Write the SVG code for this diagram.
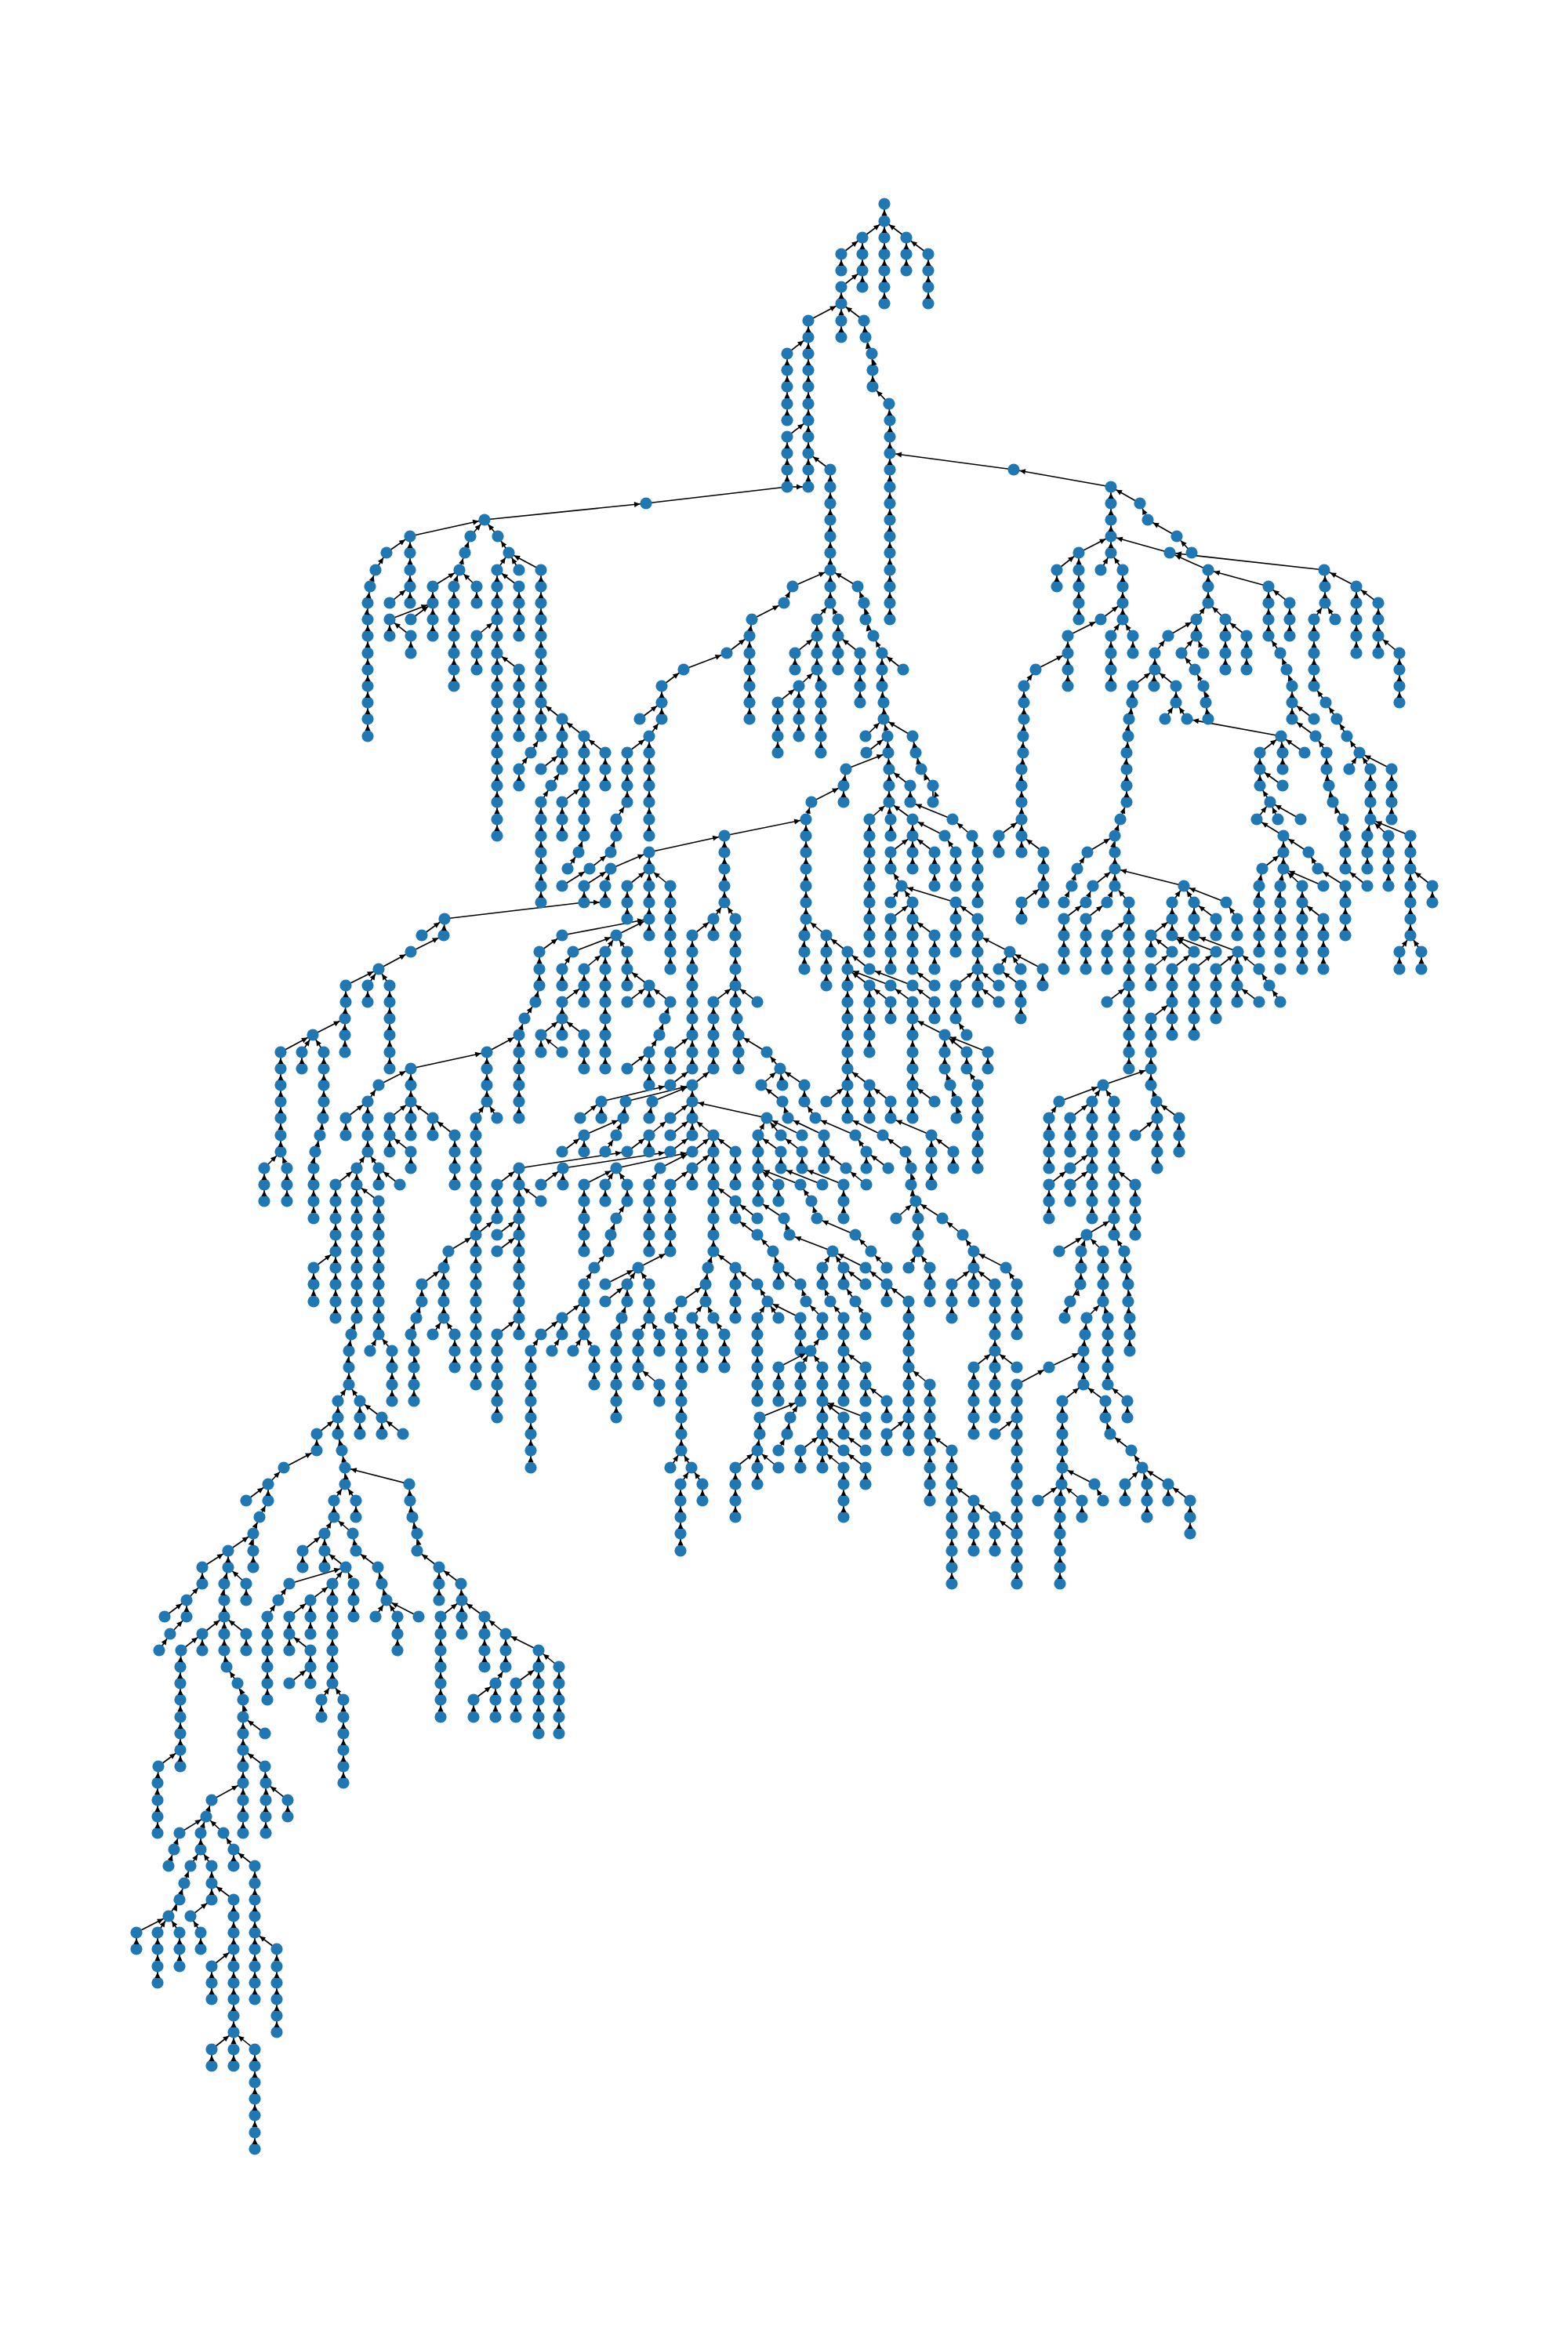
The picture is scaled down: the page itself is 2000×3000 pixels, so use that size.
<svg xmlns="http://www.w3.org/2000/svg" width="2000" height="3000" viewBox="0 0 2000 3000">
<style>
circle{r:7.6px;fill:#1f77b4}
.lines{stroke:#000;stroke-width:1.6;fill:none}
.heads{stroke:none;fill:none;marker-mid:url(#a);marker-end:url(#a)}
.x{marker:none!important}
</style>
<defs><marker id="a" markerUnits="userSpaceOnUse" markerWidth="20" markerHeight="10" refX="0" refY="0" orient="auto" overflow="visible"><path d="M-15 -3.5L-7.5 0L-15 3.5z" fill="#000"/></marker></defs>
<rect width="2000" height="3000" fill="#fff"/>
<g class="lines"><g id="connectors">
<path d="M1128 387V366 345 324 303 282 260"/><path d="M1100 303L1128 282"/><path d="M1100 366V345 324 303"/><path d="M1073 324L1100 303"/><path d="M1073 345V324"/><path d="M1073 366L1100 345"/><path d="M1073 430V409 387 366"/><path d="M1156 303L1128 282"/><path d="M1156 345V324 303"/><path d="M1184 324L1156 303"/><path d="M1184 387V366 345 324"/><path d="M1031 409L1073 387"/><path d="M1102 409L1073 387"/><path d="M1031 621V599 578 557 536 515 493 472 451 430 409"/><path d="M1004 451L1031 430"/><path d="M1004 536V515 493 472 451"/><path d="M1004 557L1031 536"/><path d="M1004 621V599 578 557"/><path d="M1004 621H1031"/><path d="M1059 769V748 727 705 684 663 642 621 599"/><path d="M1059 599L1031 578"/><path d="M1135 790V769 748 727 705 684 663 642 621 599 578 557 536L1134 515"/><path d="M1134 515L1113 493"/><path d="M1113 493V472L1112 451 1104 430 1102 409"/><path d="M1293 599L1135 578"/><path d="M1417 621L1293 599"/><path class="x" d="M1004 621L824 642"/><path d="M618 663L824 642"/>
<path d="M1011 748L1059 727"/><path d="M1094 748L1059 727"/><path d="M1000 769L1011 748"/><path d="M959 790L1000 769"/><path d="M956 811L959 790"/><path d="M956 917V896 875 854 833 811"/><path d="M927 833L956 811"/><path d="M872 854L927 833"/><path d="M844 875L872 854"/><path d="M844 896V875"/><path d="M816 917L844 896"/><path d="M844 917V896"/><path d="M828 939L844 917"/><path d="M828 1066V1045 1023 1002 981 960 939"/><path d="M800 960L828 939"/><path d="M800 1023V1002 981 960"/><path d="M786 1045L800 1023"/><path d="M786 1066V1045"/><path d="M779 1087L786 1066"/><path d="M752 1108L779 1087"/><path d="M717 1130L752 1108"/><path d="M779 1108L828 1087"/><path d="M745 1130L779 1108"/><path d="M772 1130L779 1108"/><path d="M772 1151V1130"/><path d="M745 1151V1130"/><path d="M745 1151H772"/><path class="x" d="M567 1172L745 1151"/><path d="M828 1087L924 1066"/><path d="M828 1193V1172 1151 1130 1108 1087"/><path d="M800 1130L828 1108"/><path d="M800 1172V1151 1130"/><path d="M855 1130L828 1108"/><path d="M855 1236V1214 1193 1172 1151 1130"/><path d="M717 1193L828 1172"/><path d="M786 1193L828 1172"/><path d="M688 1214L717 1193"/><path d="M688 1257V1236 1214"/><path d="M683 1278L688 1257"/><path d="M669 1299L683 1278"/><path d="M662 1320L669 1299"/><path d="M621 1342L662 1320"/><path d="M731 1214L786 1193"/><path d="M717 1236L731 1214"/><path d="M717 1257V1236"/><path d="M772 1214L786 1193"/><path d="M772 1363V1342 1320 1299 1278 1257 1236 1214"/><path d="M745 1236L772 1214"/><path d="M745 1278V1257 1236"/><path d="M717 1278L745 1257"/><path d="M717 1299V1278"/><path d="M690 1320L717 1299"/><path d="M717 1320V1299"/><path d="M745 1320L717 1299"/><path d="M690 1342V1320"/><path d="M717 1342L690 1320"/><path d="M745 1363V1342 1320"/><path d="M800 1214L786 1193"/><path d="M800 1257V1236 1214"/><path d="M828 1257L800 1236"/><path d="M800 1278L828 1257"/><path d="M828 1278V1257"/><path d="M855 1278L828 1257"/><path d="M848 1299L855 1278"/><path d="M841 1320L848 1299"/><path d="M828 1342L841 1320"/><path d="M800 1363L828 1342"/><path d="M828 1384V1363 1342"/><path d="M855 1363V1342"/><path d="M855 1342L883 1320"/><path d="M855 1384L883 1363"/><path d="M883 1363V1342 1320 1299 1278 1257 1236 1214 1193"/><path d="M883 1193L910 1172"/><path d="M910 1193V1172"/><path d="M924 1151V1130 1108 1087 1066"/><path d="M910 1172L924 1151"/><path d="M938 1172L924 1151"/><path d="M938 1257V1236 1214 1193 1172"/><path d="M910 1278L938 1257"/><path d="M938 1278V1257"/><path d="M966 1278L938 1257"/><path d="M910 1363V1342 1320 1299 1278"/><path d="M942 1363V1342 1320L940 1299 938 1278"/><path d="M978 1342L942 1320"/><path d="M995 1363L978 1342"/><path d="M971 1384L995 1363"/><path d="M998 1384L995 1363"/><path d="M1026 1384L995 1363"/><path d="M998 1405L971 1384"/><path d="M1005 1426L998 1405"/><path d="M1026 1405V1384"/><path d="M1040 1426L1026 1405"/><path d="M1091 1448L1040 1426"/><path d="M1126 1448L1081 1426"/><path d="M1188 1448L1136 1426"/><path d="M1023 1448L978 1426"/><path d="M978 1426L883 1405"/><path d="M1051 1448L1005 1426"/><path d="M967 1448L978 1426"/><path d="M996 1448L978 1426"/><path d="M967 1532V1511 1490 1469 1448"/><path d="M996 1469L967 1448"/><path d="M1023 1469L996 1448"/><path d="M996 1490V1469"/><path d="M1023 1490V1469"/><path d="M1051 1490V1469 1448"/><path d="M1079 1490L1051 1469"/><path d="M1105 1469L1091 1448"/><path d="M1105 1490V1469"/><path d="M1133 1490L1105 1469"/><path d="M1105 1511L1079 1490"/><path d="M1155 1469L1126 1448"/><path d="M1168 1532L1162 1511 1162 1490 1155 1469"/><path d="M1188 1511V1490 1469 1448"/><path d="M1216 1469L1188 1448"/><path d="M1216 1490V1469"/>
<path d="M1143 1554L1168 1532"/><path d="M1171 1554L1168 1532"/><path d="M1202 1554L1168 1532"/><path d="M1171 1596V1575 1554"/><path d="M1228 1575L1202 1554"/><path d="M1242 1596L1228 1575"/><path d="M1242 1617V1596"/><path d="M1283 1617L1242 1596"/><path d="M1297 1638L1283 1617"/><path d="M1297 1702V1681 1660 1638"/><path d="M1159 1617L1171 1596"/><path d="M1186 1617L1171 1596"/><path d="M1186 1660V1638 1617"/><path d="M1214 1638L1242 1617"/><path d="M1214 1681V1660 1638"/><path d="M1242 1660V1638 1617"/><path d="M1269 1638L1242 1617"/><path d="M1269 1723V1702 1681 1660 1638"/><path d="M1242 1744L1269 1723"/><path d="M1242 1829V1808 1787 1766 1744"/><path d="M1269 1808V1787 1766 1744 1723"/><path d="M1297 1744L1269 1723"/>
<path d="M993 1511L967 1490"/><path d="M993 1532V1511"/><path d="M1021 1511L967 1490"/><path d="M1049 1511L996 1490"/><path d="M1076 1511L1023 1490"/><path d="M1035 1532L1021 1511"/><path d="M1042 1554L1035 1532"/><path d="M1076 1554V1532 1511"/><path d="M1091 1575L1042 1554"/><path d="M1111 1596L1091 1575"/><path d="M1131 1617L1111 1596"/><path d="M1000 1554L967 1532"/><path d="M1007 1575L1000 1554"/><path d="M1062 1596L1007 1575"/><path d="M1049 1617L1062 1596"/><path d="M1076 1617L1062 1596"/><path d="M1104 1617L1062 1596"/><path d="M1049 1638V1617"/><path d="M1059 1660L1049 1638"/><path d="M1076 1638V1617"/><path d="M1104 1638L1076 1617"/><path d="M1091 1660L1076 1638"/><path d="M1104 1681L1091 1660"/><path d="M1104 1702V1681"/><path d="M1076 1787V1766 1744 1723 1702 1681"/><path d="M1076 1681L1059 1660"/><path d="M1131 1638L1104 1617"/><path d="M1131 1660V1638"/><path d="M1159 1660L1131 1638"/><path d="M1159 1850V1829 1808 1787 1766 1744 1723 1702 1681 1660"/><path d="M1104 1744L1076 1723"/><path d="M1104 1787V1766 1744"/><path d="M1131 1787L1104 1766"/><path d="M1131 1808V1787"/><path d="M1131 1829L1159 1808"/><path d="M1131 1850V1829"/><path d="M1186 1766L1159 1744"/><path d="M1186 1914V1893 1872 1850 1829 1808 1787 1766"/><path d="M1214 1850L1186 1829"/><path d="M1214 2020V1999 1978 1956 1935 1914 1893 1872 1850"/><path d="M1242 1914L1214 1893"/><path d="M1242 1978V1956 1935 1914"/><path d="M1269 1935L1242 1914"/><path d="M1269 1978V1956 1935"/><path d="M1297 1956L1269 1935"/><path d="M1297 2020V1999 1978 1956 1935 1914 1893 1872 1850 1829 1808 1787 1766"/><path d="M1297 1766L1338 1744"/><path d="M1338 1744L1382 1723"/><path d="M1269 1829L1297 1808"/>
<path d="M1382 1766V1744 1723L1384 1702 1386 1681"/><path d="M1386 1681L1407 1660"/><path d="M1407 1660V1638 1617 1596"/><path d="M1413 1681L1407 1660"/><path d="M1413 1766V1744 1723 1702 1681"/><path d="M1438 1787L1413 1766"/><path d="M1438 1808V1787"/><path d="M1355 1787L1382 1766"/><path d="M1410 1787L1382 1766"/><path d="M1355 1872V1850 1829 1808 1787"/><path d="M1410 1808V1787"/><path d="M1416 1829L1410 1808"/><path d="M1443 1850L1416 1829"/><path d="M1457 1872L1443 1850"/><path d="M1435 1893L1457 1872"/><path d="M1463 1893L1457 1872"/><path d="M1490 1893L1457 1872"/><path d="M1435 1914V1893"/><path d="M1463 1935V1914 1893"/><path d="M1490 1914V1893"/><path d="M1518 1914L1490 1893"/><path d="M1518 1956V1935 1914"/><path d="M1354 1893L1355 1872"/><path d="M1396 1893L1355 1872"/><path d="M1407 1914L1396 1893"/><path d="M1324 1914L1354 1893"/><path d="M1352 2020V1999 1978 1956 1935 1914L1354 1893"/><path d="M1380 1914L1354 1893"/><path d="M1380 1935V1914"/><path d="M1351 1596L1386 1575"/><path d="M1407 1596L1386 1575"/><path d="M1379 1596L1386 1575"/><path d="M1358 1681L1365 1660 1378 1638 1379 1617 1379 1596"/><path d="M1386 1575L1421 1554"/><path d="M1421 1575V1554 1532 1511 1490 1469 1448 1426 1405"/><path d="M1434 1596L1421 1575"/><path d="M1441 1723V1702 1681L1439 1660 1439 1638 1436 1617 1434 1596"/><path d="M1448 1511L1421 1490"/><path d="M1448 1575V1554 1532 1511"/><path d="M1393 1554V1532 1511 1490 1469 1448 1426 1405"/><path d="M1365 1426L1393 1405"/><path d="M1365 1469V1448 1426"/><path d="M1365 1490L1393 1469"/><path d="M1338 1511L1365 1490"/><path d="M1338 1554V1532 1511"/><path d="M1365 1511L1393 1490"/><path d="M1365 1532V1511"/><path d="M1338 1490V1469 1448 1426"/><path d="M1338 1426L1351 1405"/><path d="M1351 1405L1407 1384"/><path d="M1393 1405L1407 1384"/><path d="M1420 1405L1407 1384"/><path d="M1407 1384L1468 1363"/><path d="M1476 1490V1469 1448 1426L1475 1405"/><path d="M1475 1405L1468 1384"/><path d="M1448 1448L1476 1426"/><path d="M1504 1426L1475 1405"/><path d="M1504 1469V1448 1426"/>
<path d="M1468 1214V1193"/><path d="M1468 1193L1495 1172"/><path d="M1468 1257V1236"/><path d="M1468 1236L1495 1214"/><path d="M1468 1384V1363 1342 1320 1299"/><path d="M1468 1299L1495 1278"/><path d="M1495 1193V1172 1151"/><path d="M1495 1151L1510 1130"/><path d="M1523 1151L1510 1130"/><path d="M1564 1151L1510 1130"/><path d="M1510 1130L1422 1108"/><path d="M1495 1214L1468 1193"/><path d="M1495 1320V1299 1278 1257 1236"/><path d="M1495 1236L1523 1214"/><path d="M1523 1193V1172 1151"/><path d="M1523 1214L1495 1193"/><path d="M1551 1214L1495 1193"/><path d="M1579 1214L1523 1193"/><path d="M1551 1172L1523 1151"/><path d="M1551 1193V1172"/><path d="M1578 1172L1564 1151"/><path d="M1578 1193V1172"/><path d="M1523 1236L1551 1214"/><path d="M1523 1320V1299 1278 1257 1236"/><path d="M1551 1236L1579 1214"/><path d="M1551 1299V1278 1257 1236"/><path d="M1578 1278V1257 1236 1214"/><path d="M1606 1236L1579 1214"/><path d="M1606 1278L1578 1257"/><path d="M1619 1257L1606 1236"/><path d="M1633 1278L1619 1257"/>
<path d="M1440 1363V1342 1320 1299 1278 1257 1236 1214 1193 1172 1151"/><path d="M1440 1151L1422 1130"/><path d="M1412 1193L1440 1172"/><path d="M1412 1236V1214 1193"/><path d="M1412 1278L1440 1257"/><path d="M1357 1151L1367 1130"/><path d="M1367 1130L1374 1108"/><path d="M1374 1108L1387 1087"/><path d="M1387 1087L1422 1066"/><path d="M1394 1130L1422 1108"/><path d="M1385 1151L1394 1130"/><path d="M1412 1151L1422 1130"/><path d="M1357 1172L1385 1151"/><path d="M1357 1236V1214 1193 1172"/><path d="M1385 1172L1412 1151"/><path d="M1385 1236V1214 1193 1172"/><path d="M1422 1130V1108 1087 1066L1429 1045"/><path d="M1429 1045L1437 1023"/><path d="M1437 1023V1002 981 960L1439 939 1440 917 1444 896 1445 875"/><path d="M1445 875L1473 854"/><path d="M1473 854V833"/><path d="M1473 833L1490 811"/><path d="M1490 811L1526 790"/><path d="M1526 811V790"/><path d="M1526 790L1541 769"/><path d="M1563 790L1541 769"/><path d="M1541 769V748 727"/><path d="M1541 727L1492 705"/><path d="M1492 705L1417 684"/><path d="M1689 727L1492 705"/><path d="M1618 748L1541 727"/><path d="M1645 769L1618 748"/><path d="M1645 811V790 769"/><path d="M1472 875V854"/><path d="M1500 875L1473 854"/><path d="M1500 896V875"/><path d="M1486 917L1500 896"/><path d="M1514 917L1500 896"/><path d="M1634 939L1514 917"/><path d="M1507 833L1526 811"/><path d="M1535 833L1526 811"/><path d="M1524 854L1507 833"/><path d="M1541 917L1538 896 1535 875 1524 854"/><path d="M1563 854V833 811 790"/><path d="M1590 811L1563 790"/><path d="M1590 854V833 811"/><path d="M1618 811V790 769 748"/><path d="M1633 833L1618 811"/><path d="M1648 875L1641 854 1633 833"/><path d="M1648 917V896 875"/><path d="M1676 917L1648 896"/><path d="M1678 939L1648 917"/><path d="M1692 960L1678 939"/><path d="M1716 1108V1087 1066L1713 1045 1700 1023 1695 1002 1692 981 1692 960"/><path d="M1744 1130L1716 1108"/><path d="M1716 1193V1172 1151 1130"/><path d="M1716 1130L1681 1108"/><path d="M1681 1108L1669 1087"/><path d="M1669 1087L1637 1066"/><path d="M1637 1066L1603 1045"/><path d="M1637 1108V1087 1066"/><path d="M1610 1108L1637 1087"/><path d="M1606 1214V1193 1172 1151 1130L1610 1108"/><path d="M1633 1214V1193 1172 1151 1130L1637 1108"/><path d="M1661 1130L1637 1108"/><path d="M1661 1236V1214 1193 1172 1151 1130"/><path d="M1688 1130L1637 1108"/><path d="M1688 1172L1661 1151"/><path d="M1688 1236V1214 1193 1172"/><path d="M1607 960L1634 939"/><path d="M1636 960L1634 939"/><path d="M1664 960L1634 939"/><path d="M1636 981V960"/><path d="M1607 1002V981 960"/><path d="M1636 1002L1607 981"/><path d="M1620 1023L1607 1002"/><path d="M1603 1045L1620 1023"/><path d="M1630 1045L1620 1023"/><path d="M1659 1045L1620 1023"/>
<path d="M1690 769V748 727"/><path d="M1730 748L1690 727"/><path d="M1758 769L1730 748"/><path d="M1730 833V811 790 769 748"/><path d="M1758 833V811 790 769"/><path d="M1785 833L1758 811"/><path d="M1785 896V875 854 833"/><path d="M1676 790L1690 769"/><path d="M1703 790L1690 769"/><path d="M1676 875V854 833 811 790"/><path d="M1734 960L1718 939 1705 917 1691 896 1676 875"/><path d="M1721 981L1734 960"/><path d="M1748 981L1734 960"/><path d="M1775 981L1734 960"/><path d="M1748 1045V1023 1002 981"/><path d="M1775 1045V1023 1002 981"/><path d="M1744 1108V1087 1066L1748 1045"/><path d="M1771 1066L1748 1045"/><path d="M1771 1130V1108 1087 1066"/><path d="M1799 1066L1748 1045"/><path d="M1799 1193V1172 1151 1130 1108 1087 1066"/><path d="M1827 1130L1799 1108"/><path d="M1827 1151V1130"/><path d="M1785 1214L1799 1193"/><path d="M1813 1214L1799 1193"/><path d="M1785 1236V1214"/><path d="M1813 1236V1214"/>
<path d="M1417 705V684 663 642 621"/><path d="M1454 642L1417 621"/><path d="M1464 663L1454 642"/><path d="M1501 684L1464 663"/><path d="M1520 705L1501 684"/><path d="M1376 705L1417 684"/><path d="M1348 727L1376 705"/><path d="M1348 748V727"/><path d="M1376 790V769 748 727 705"/><path d="M1404 727L1417 705"/><path d="M1432 727L1417 705"/><path d="M1432 790V769 748 727"/><path d="M1404 790L1432 769"/><path d="M1362 811L1404 790"/><path d="M1362 875V854 833 811"/><path d="M1321 854L1362 833"/><path d="M1417 875V854 833 811"/><path d="M1417 811L1432 790"/><path d="M1445 811L1432 790"/><path d="M1445 833V811"/><path d="M1306 875L1321 854"/><path d="M1303 1087V1066 1045 1023 1002 981L1305 960 1305 939 1306 917 1306 896 1306 875"/><path d="M1331 1087L1303 1066"/><path d="M1331 1151V1130 1108 1087"/><path d="M1303 1151L1331 1130"/><path d="M1303 1172V1151"/><path d="M1274 1066L1303 1045"/><path d="M1274 1087V1066"/>
<path d="M924 1066L1028 1045"/><path d="M1028 1172V1151 1130 1108 1087 1066 1045"/><path d="M1026 1236V1214 1193L1028 1172"/><path d="M1028 1045L1035 1023"/><path d="M1035 1023L1076 1002"/><path d="M1076 1023V1002"/><path d="M1076 1002L1079 981"/><path d="M1079 981L1133 960"/><path d="M1133 960L1132 939"/><path d="M1132 939L1127 917"/><path d="M1127 917V896L1125 875 1125 854 1125 833"/><path d="M1125 833L1114 811 1104 790 1102 769 1094 748"/><path d="M1152 854L1125 833"/><path d="M1104 939L1127 917"/><path d="M1105 960L1132 939"/><path d="M1164 939L1127 917"/><path d="M1190 1023V1002L1175 981 1168 960 1164 939"/><path d="M1136 1066V1045L1134 1023 1134 1002 1134 981 1133 960"/><path d="M1161 1002L1134 981"/><path d="M1161 1023V1002"/><path d="M1215 1045L1161 1023"/><path d="M1240 1066L1215 1045"/><path d="M1247 1087L1240 1066"/><path d="M1247 1151V1130 1108 1087"/><path d="M1247 1172L1219 1151"/><path d="M1247 1278V1257 1236 1214 1193 1172"/><path d="M1109 1045L1134 1023"/><path d="M1109 1214V1193 1172 1151 1130 1108 1087 1066 1045"/><path d="M1164 1045L1134 1023"/><path d="M1164 1066V1045"/><path d="M1205 1066L1164 1045"/><path d="M1219 1087L1205 1066"/><path d="M1219 1130V1108 1087"/><path d="M1136 1087L1164 1066"/><path d="M1136 1108V1087"/><path d="M1164 1108V1087 1066"/><path d="M1192 1087L1164 1066"/><path d="M1192 1130V1108 1087"/><path d="M1150 1130L1136 1108"/><path d="M1136 1151L1150 1130"/><path d="M1164 1151L1150 1130"/><path d="M1219 1151L1150 1130"/><path d="M1219 1214V1193 1172 1151"/><path d="M1136 1172L1164 1151"/><path d="M1136 1236V1214 1193 1172"/><path d="M1164 1236V1214 1193 1172 1151"/><path d="M1192 1193L1164 1172"/><path d="M1192 1236V1214 1193"/><path d="M1219 1257L1247 1236"/><path d="M1219 1299V1278 1257"/><path d="M1233 1320L1219 1299"/><path d="M1288 1214L1247 1193"/><path d="M1274 1236L1288 1214"/><path d="M1302 1236L1288 1214"/><path d="M1330 1236L1288 1214"/><path d="M1330 1257V1236"/><path d="M1274 1257L1247 1236"/><path d="M1274 1278L1247 1257"/><path d="M1302 1257L1274 1236"/><path d="M1302 1299V1278 1257"/>
<path d="M1054 1193L1028 1172"/><path d="M1054 1257V1236 1214 1193"/><path d="M1081 1214L1054 1193"/><path d="M1081 1426V1405 1384 1363 1342 1320 1299 1278 1257 1236 1214"/><path d="M1109 1236L1081 1214"/><path d="M1109 1257L1081 1236"/><path d="M1136 1257L1081 1236"/><path d="M1164 1257L1109 1236"/><path d="M1192 1257L1164 1236"/><path d="M1192 1278L1164 1257"/><path d="M1109 1342V1320 1299 1278 1257"/><path d="M1136 1278L1109 1257"/><path d="M1136 1299V1278"/><path d="M1164 1278L1136 1257"/><path d="M1164 1426V1405 1384 1363 1342 1320 1299 1278"/><path d="M1192 1299V1278"/><path d="M1205 1320L1164 1299"/><path d="M1205 1363V1342 1320"/><path d="M1220 1426V1405L1212 1384 1205 1363"/><path d="M1233 1342L1205 1320"/><path d="M1233 1363V1342"/><path d="M1260 1342L1205 1320"/><path d="M1260 1363V1342"/><path d="M1247 1384L1233 1363"/><path d="M1247 1490V1469 1448 1426 1405 1384"/><path d="M1192 1405L1164 1384"/><path d="M1054 1405L1081 1384"/><path d="M1109 1384L1081 1363"/><path d="M1109 1426V1405 1384"/><path d="M1136 1405L1109 1384"/><path d="M1136 1426V1405"/>
<path d="M662 1702V1681 1660 1638 1617 1596 1575 1554 1532 1511 1490"/><path d="M662 1426V1405 1384 1363 1342 1320"/><path d="M621 1405V1384 1363 1342"/><path d="M607 1426L621 1405"/><path d="M634 1426L621 1405"/><path d="M607 1766V1744 1723 1702 1681 1660 1638 1617 1596 1575 1554 1532 1511 1490 1469 1448 1426"/><path d="M634 1511L662 1490"/><path d="M634 1554V1532 1511"/><path d="M607 1575L634 1554"/><path d="M572 1596L607 1575"/><path d="M566 1617L572 1596"/><path d="M566 1681V1660 1638 1617"/><path d="M538 1638L566 1617"/><path d="M538 1660V1638"/><path d="M524 1702L531 1681 538 1660"/><path d="M528 1787V1766 1744 1723L524 1702"/><path d="M552 1702L566 1681"/><path d="M580 1702L566 1681"/><path d="M580 1744V1723 1702"/><path d="M690 1532L662 1511"/><path d="M634 1575L662 1554"/><path d="M634 1596L662 1575"/><path d="M634 1702L662 1681"/><path d="M634 1808V1787 1766 1744 1723 1702"/><path d="M662 1490L800 1469"/><path d="M718 1490L855 1469"/><path d="M718 1511V1490"/><path d="M690 1511L718 1490"/>
<path d="M767 1405L855 1384"/><path d="M798 1405L883 1384"/><path d="M832 1405L883 1384"/><path d="M740 1426L767 1405"/><path d="M767 1426V1405"/><path d="M795 1426L798 1405"/><path d="M828 1426L832 1405"/><path d="M855 1426L883 1405"/><path d="M883 1448V1426 1405 1384"/><path d="M883 1384L910 1363"/><path d="M828 1448L855 1426"/><path d="M855 1448L883 1426"/><path d="M910 1448L883 1426"/><path d="M938 1469L910 1448"/><path d="M910 1469V1448"/><path d="M828 1469V1448"/><path d="M800 1469L828 1448"/><path d="M855 1469L883 1448"/><path d="M883 1469L910 1448"/><path d="M786 1448L795 1426"/><path d="M772 1469L786 1448"/><path d="M745 1448L795 1426"/><path d="M745 1469V1448"/><path d="M717 1469L745 1448"/><path d="M883 1490L910 1469"/><path d="M883 1511V1490"/><path d="M910 1490V1469"/><path d="M786 1490L883 1469"/><path d="M842 1490L883 1469"/><path d="M745 1511L786 1490"/><path d="M772 1511L786 1490"/><path d="M800 1511L786 1490"/><path d="M745 1596V1575 1554 1532 1511"/><path d="M772 1532V1511"/><path d="M800 1532V1511"/><path d="M786 1554L800 1532"/><path d="M779 1575L786 1554"/><path d="M776 1596L779 1575"/><path d="M758 1617L776 1596"/><path d="M745 1638L758 1617"/><path d="M828 1511L842 1490"/><path d="M855 1511L883 1490"/><path d="M938 1511V1490 1469"/><path d="M828 1596V1575 1554 1532 1511"/><path d="M855 1596V1575 1554 1532 1511"/><path d="M910 1596V1575 1554 1532 1511 1490"/><path d="M938 1532L910 1511"/><path d="M938 1554V1532"/><path d="M966 1554L938 1532"/><path d="M966 1575L938 1554"/><path d="M986 1596L966 1575"/><path d="M993 1617L986 1596"/><path d="M993 1638V1617"/><path d="M1021 1638L993 1617"/><path d="M1028 1660L1021 1638"/><path d="M1049 1681L1028 1660"/><path d="M1049 1702V1681"/><path d="M1034 1723L1049 1702"/><path d="M993 1744L1034 1723"/><path d="M1021 1744L1034 1723"/><path d="M1049 1744L1034 1723"/><path d="M1049 1872V1850 1829 1808 1787 1766 1744"/><path d="M1076 1808L1049 1787"/><path d="M1104 1808L1049 1787"/><path d="M1076 1829V1808"/><path d="M1104 1829V1808"/><path d="M1021 1850L1049 1829"/><path d="M1021 1872V1850"/><path d="M1076 1850L1049 1829"/><path d="M1076 1872L1049 1850"/><path d="M1076 1935V1914 1893 1872"/><path d="M1104 1850L1076 1829"/><path d="M1104 1872L1076 1850"/><path d="M1104 1893V1872"/><path d="M969 1808L1021 1787"/><path d="M1008 1808L1021 1787"/><path d="M969 1829V1808"/><path d="M966 1850L969 1829"/><path d="M966 1893V1872 1850"/><path d="M938 1872L966 1850"/><path d="M938 1935V1914 1893 1872"/><path d="M993 1872L966 1850"/><path d="M1004 1829L1008 1808"/><path d="M993 1850L1004 1829"/><path d="M1021 1787V1766 1744"/><path d="M993 1787V1766 1744"/><path d="M966 1787V1766 1744 1723 1702 1681"/><path d="M966 1681L979 1660"/><path d="M979 1660L966 1638"/><path d="M993 1681L979 1660"/><path d="M1021 1681L979 1660"/><path d="M1021 1723V1702 1681"/><path d="M966 1638L938 1617"/><path d="M938 1681V1660 1638 1617"/><path d="M938 1617L910 1596"/><path d="M903 1617L910 1596"/><path d="M900 1638L903 1617"/><path d="M900 1660V1638"/><path d="M869 1660L900 1638"/><path d="M855 1681L869 1660"/><path d="M869 1850V1829 1808 1787 1766 1744 1723 1702"/><path d="M869 1702L855 1681"/><path d="M883 1681L900 1660"/><path d="M910 1681L900 1660"/><path d="M896 1702L883 1681"/><path d="M896 1744V1723 1702"/><path d="M924 1702L910 1681"/><path d="M924 1744V1723 1702"/><path d="M855 1872L869 1850"/><path d="M882 1872L869 1850"/><path d="M868 1893L882 1872"/><path d="M896 1893L882 1872"/><path d="M896 1914V1893"/><path d="M868 1978V1956 1935 1914 1893"/><path d="M814 1617L855 1596"/><path d="M772 1638L814 1617"/><path d="M800 1638L814 1617"/><path d="M828 1638L814 1617"/><path d="M772 1660L800 1638"/><path d="M800 1660V1638"/><path d="M793 1681L800 1660"/><path d="M786 1702L793 1681"/><path d="M786 1808V1787 1766 1744 1723 1702"/><path d="M828 1681V1660 1638"/><path d="M814 1702L828 1681"/><path d="M841 1702L828 1681"/><path d="M814 1766V1744 1723 1702"/><path d="M841 1723V1702"/><path d="M841 1766L814 1744"/><path d="M841 1787V1766"/><path d="M745 1702V1681 1660 1638"/><path d="M717 1681L745 1660"/><path d="M717 1702V1681"/><path d="M704 1723L717 1702"/><path d="M731 1723L745 1702"/><path d="M758 1723L745 1702"/><path d="M758 1766V1744 1723"/><path d="M690 1702L717 1681"/><path d="M677 1723L690 1702"/><path d="M677 1872V1850 1829 1808 1787 1766 1744 1723"/>
<path d="M524 1214L566 1193"/><path d="M483 1236L524 1214"/><path d="M538 1193L567 1172"/><path d="M566 1193L567 1172"/><path d="M441 1257L483 1236"/><path d="M469 1257L483 1236"/><path d="M497 1257L483 1236"/><path d="M441 1278V1257"/><path d="M440 1342V1320 1299L441 1278"/><path d="M399 1320L440 1299"/><path d="M358 1342L399 1320"/><path d="M385 1342L399 1320"/><path d="M385 1363V1342"/><path d="M413 1342L399 1320"/><path d="M469 1278V1257"/><path d="M497 1363V1342 1320 1299 1278 1257"/><path d="M358 1469V1448 1426 1405 1384 1363 1342"/><path d="M337 1490L358 1469"/><path d="M337 1532V1511 1490"/><path d="M366 1490L358 1469"/><path d="M366 1532V1511 1490"/><path d="M400 1554V1532 1511 1490L402 1469 408 1448 412 1426 413 1405 413 1384 413 1363 413 1342"/><path d="M524 1363L621 1342"/><path d="M483 1384L524 1363"/><path d="M469 1405L483 1384"/><path d="M441 1426L469 1405"/><path d="M441 1448V1426"/><path d="M469 1469V1448 1426 1405"/><path d="M455 1490L469 1469"/><path d="M483 1490L469 1469"/><path d="M483 1511V1490"/><path d="M510 1511L483 1490"/><path d="M428 1511L455 1490"/><path d="M428 1681V1660 1638 1617 1596 1575 1554 1532 1511"/><path d="M400 1617L428 1596"/><path d="M400 1660V1638 1617"/><path d="M455 1681V1660 1638 1617 1596 1575 1554 1532 1511 1490"/><path d="M483 1532L455 1511"/><path d="M483 1702V1681 1660 1638 1617 1596 1575 1554 1532"/><path d="M448 1702L455 1681"/><path d="M445 1766V1744 1723L448 1702"/><path d="M472 1723L483 1702"/><path d="M500 1723L483 1702"/><path d="M500 1787V1766 1744 1723"/><path d="M524 1405V1384 1363"/><path d="M497 1426L524 1405"/><path d="M524 1426V1405"/><path d="M552 1426L524 1405"/><path d="M497 1469V1448 1426"/><path d="M524 1448V1426"/><path d="M524 1469L497 1448"/><path d="M524 1490V1469"/><path d="M552 1448V1426"/><path d="M580 1448L552 1426"/><path d="M580 1511V1490 1469 1448"/>
<path d="M431 1787L445 1766"/><path d="M459 1787L445 1766"/><path d="M431 1829V1808 1787"/><path d="M404 1829L431 1808"/><path d="M404 1850V1829"/><path d="M436 1850L431 1829"/><path d="M440 1893V1872L436 1850"/><path d="M459 1829V1808 1787"/><path d="M487 1808L459 1787"/><path d="M487 1829V1808"/><path d="M514 1829L487 1808"/><path d="M362 1872L404 1850"/><path d="M342 1893L362 1872"/><path d="M342 1914V1893"/><path d="M323 1999V1978 1956L331 1935 342 1914"/><path d="M291 1978L323 1956"/><path d="M258 1999L291 1978"/><path d="M258 2020V1999"/><path d="M238 2041L258 2020"/><path d="M210 2062L238 2041"/><path d="M238 2062V2041"/><path d="M217 2084L238 2062"/><path d="M203 2105L217 2084"/><path d="M314 1914L342 1893"/><path d="M291 1999V1978"/><path d="M314 2020L291 1999"/><path d="M314 2041V2020"/><path d="M286 2062V2041 2020L291 1999"/><path d="M258 2084L286 2062"/><path d="M258 2105V2084"/><path d="M286 2105V2084 2062"/><path d="M314 2084L286 2062"/><path d="M314 2105V2084"/><path d="M231 2105L258 2084"/><path d="M230 2232V2211 2190 2168 2147 2126L231 2105"/><path d="M230 2253V2232"/><path d="M202 2253L230 2232"/><path d="M201 2338V2317 2296 2274L202 2253"/><path d="M289 2126L286 2105"/><path d="M310 2338V2317 2296 2274 2253 2232 2211 2190 2168L303 2147 289 2126"/><path d="M338 2211L310 2190"/><path d="M338 2253L310 2232"/><path d="M339 2338V2317 2296 2274L338 2253"/><path d="M367 2296L339 2274"/><path d="M367 2317V2296"/><path d="M270 2296L310 2274"/><path d="M263 2317L270 2296"/><path d="M229 2338L263 2317"/><path d="M256 2338L263 2317"/><path d="M285 2338L263 2317"/><path d="M256 2359V2338"/><path d="M298 2359L285 2338"/><path d="M298 2380V2359"/><path d="M325 2380L298 2359"/><path d="M222 2359L229 2338"/><path d="M215 2380L222 2359"/><path d="M243 2380L256 2359"/><path d="M270 2380L256 2359"/><path d="M215 2444L229 2423 235 2402 243 2380"/><path d="M174 2465L215 2444"/><path d="M174 2486V2465"/><path d="M201 2465L215 2444"/><path d="M201 2529V2508 2486 2465"/><path d="M229 2465L215 2444"/><path d="M229 2508V2486 2465"/><path d="M270 2423V2402 2380"/><path d="M243 2444L270 2423"/><path d="M256 2465L243 2444"/><path d="M256 2486V2465"/><path d="M298 2423L270 2402"/><path d="M298 2592V2571 2550 2529 2508 2486 2465 2444 2423"/><path d="M270 2508L298 2486"/><path d="M270 2550V2529 2508"/><path d="M325 2550V2529 2508 2486 2465 2444 2423 2402 2380"/><path d="M353 2486L325 2465"/><path d="M353 2592V2571 2550 2529 2508 2486"/><path d="M270 2614L298 2592"/><path d="M298 2614V2592"/><path d="M325 2614L298 2592"/><path d="M270 2635V2614"/><path d="M298 2635V2614"/><path d="M325 2741V2720 2698 2677 2656 2635 2614"/>
<path d="M426 1914L440 1893"/><path d="M454 1914L440 1893"/><path d="M454 1935V1914"/><path d="M426 1935V1914"/><path d="M414 1956L426 1935"/><path d="M450 1956L426 1935"/><path d="M454 1978L450 1956"/><path d="M482 1999L454 1978"/><path d="M493 2041L487 2020 482 1999"/><path d="M479 2062L493 2041"/><path d="M507 2062L493 2041"/><path d="M534 2062L493 2041"/><path d="M507 2105V2084 2062"/><path d="M414 1999V1978 1956"/><path d="M386 1978L414 1956"/><path d="M386 1999V1978"/><path d="M441 1999L414 1978"/><path d="M369 2020L441 1999"/><path d="M424 2020L441 1999"/><path d="M451 2020L441 1999"/><path d="M451 2062V2041 2020"/><path d="M355 2041L369 2020"/><path d="M341 2062L355 2041"/><path d="M341 2168V2147 2126 2105 2084 2062"/><path d="M396 2041L424 2020"/><path d="M424 2147V2126 2105 2084 2062 2041 2020"/><path d="M369 2062L396 2041"/><path d="M396 2084V2062 2041"/><path d="M369 2084V2062"/><path d="M369 2105V2084"/><path d="M396 2105L369 2084"/><path d="M396 2147V2126 2105"/><path d="M369 2147L396 2126"/><path d="M410 2168L424 2147"/><path d="M410 2190V2168"/><path d="M438 2168L424 2147"/><path d="M438 2274V2253 2232 2211 2190 2168"/><path d="M522 1893L440 1872"/><path d="M532 1978V1956L526 1935 523 1914 522 1893"/><path d="M560 1999L532 1978"/><path d="M560 2041V2020 1999"/><path d="M588 2020L560 1999"/><path d="M589 2041L588 2020"/><path d="M562 2062L589 2041"/><path d="M589 2084V2062 2041"/><path d="M618 2062L589 2041"/><path d="M562 2190V2168 2147 2126 2105 2084 2062"/><path d="M618 2126V2105 2084 2062"/><path d="M645 2084L618 2062"/><path d="M645 2126V2105 2084"/><path d="M632 2147L645 2126"/><path d="M632 2190V2168 2147"/><path d="M604 2168L632 2147"/><path d="M604 2190V2168"/><path d="M687 2105L645 2084"/><path d="M687 2211V2190 2168 2147 2126 2105"/><path d="M658 2147L687 2126"/><path d="M658 2190V2168 2147"/><path d="M713 2126L687 2105"/><path d="M713 2211V2190 2168 2147 2126"/>
<path d="M523 684L618 663"/><path d="M600 684L618 663"/><path d="M635 684L618 663"/><path d="M493 705L523 684"/><path d="M479 727L493 705"/><path d="M472 748L479 727"/><path d="M469 939V917 896 875 854 833 811 790 769L472 748"/><path d="M523 769V748 727 705 684"/><path d="M497 769L523 748"/><path d="M497 811V790"/><path d="M497 790L552 769"/><path d="M524 790L552 769"/><path d="M524 811L497 790"/><path d="M524 833V811"/><path d="M593 705L600 684"/><path d="M586 727L593 705"/><path d="M552 748L586 727"/><path d="M552 811V790 769 748"/><path d="M579 748L586 727"/><path d="M579 875V854 833 811 790 769 748"/><path d="M608 748L586 727"/><path d="M608 769V748"/><path d="M649 705L635 684"/><path d="M634 727L649 705"/><path d="M662 727L649 705"/><path d="M690 727L649 705"/><path d="M634 1066V1045 1023 1002 981 960 939 917 896 875 854 833 811 790 769 748 727"/><path d="M662 748L634 727"/><path d="M662 811V790 769 748"/><path d="M608 811L634 790"/><path d="M608 854V833 811"/><path d="M662 854L634 833"/><path d="M662 939V917 896 875 854"/><path d="M690 939V917 896 875 854 833 811 790 769 748 727"/><path d="M717 917L690 896"/><path d="M717 981V960 939 917"/><path d="M745 939L717 917"/><path d="M745 1066V1045 1023 1002 981 960 939"/><path d="M772 960L745 939"/><path d="M772 1002V981 960"/><path d="M677 960L690 939"/><path d="M662 981L677 960"/><path d="M662 1002V981"/><path d="M690 981L717 960"/><path d="M703 1002L717 981"/><path d="M690 1023L703 1002"/><path d="M690 1151V1130 1108 1087 1066 1045 1023"/><path d="M717 1023L745 1002"/><path d="M717 1066V1045 1023"/><path d="M738 1087L745 1066"/><path d="M724 1108L738 1087"/>
<path d="M1042 790L1059 769"/><path d="M1069 790L1059 769"/><path d="M1042 811V790"/><path d="M1069 811V790"/><path d="M1014 833L1042 811"/><path d="M1014 854V833"/><path d="M1042 854V833 811"/><path d="M1069 854V833 811"/><path d="M1097 833L1069 811"/><path d="M1097 896V875 854 833"/><path d="M1019 875L1042 854"/><path d="M1047 875L1042 854"/><path d="M1047 960V939 917 896 875"/><path d="M992 896L1019 875"/><path d="M992 960V939 917 896"/><path d="M1019 939V917 896 875"/>
</g></g>
<g id="nodes">
<g id="n1"><circle cx="1128" cy="260"/></g><g id="n2"><circle cx="1128" cy="282"/></g><g id="n3"><circle cx="1128" cy="303"/></g><g id="n4"><circle cx="1128" cy="324"/></g><g id="n5"><circle cx="1128" cy="345"/></g><g id="n6"><circle cx="1128" cy="366"/></g><g id="n7"><circle cx="1128" cy="387"/></g><g id="n8"><circle cx="1100" cy="303"/></g><g id="n9"><circle cx="1100" cy="324"/></g><g id="n10"><circle cx="1100" cy="345"/></g><g id="n11"><circle cx="1100" cy="366"/></g><g id="n12"><circle cx="1073" cy="324"/></g><g id="n13"><circle cx="1073" cy="345"/></g><g id="n14"><circle cx="1073" cy="366"/></g><g id="n15"><circle cx="1073" cy="387"/></g><g id="n16"><circle cx="1073" cy="409"/></g><g id="n17"><circle cx="1073" cy="430"/></g><g id="n18"><circle cx="1156" cy="303"/></g><g id="n19"><circle cx="1156" cy="324"/></g><g id="n20"><circle cx="1156" cy="345"/></g><g id="n21"><circle cx="1184" cy="324"/></g><g id="n22"><circle cx="1184" cy="345"/></g><g id="n23"><circle cx="1184" cy="366"/></g><g id="n24"><circle cx="1184" cy="387"/></g><g id="n25"><circle cx="1031" cy="409"/></g><g id="n26"><circle cx="1031" cy="430"/></g><g id="n27"><circle cx="1031" cy="451"/></g><g id="n28"><circle cx="1031" cy="472"/></g><g id="n29"><circle cx="1031" cy="493"/></g><g id="n30"><circle cx="1031" cy="515"/></g><g id="n31"><circle cx="1031" cy="536"/></g><g id="n32"><circle cx="1031" cy="557"/></g><g id="n33"><circle cx="1031" cy="578"/></g><g id="n34"><circle cx="1031" cy="599"/></g><g id="n35"><circle cx="1031" cy="621"/></g><g id="n36"><circle cx="1102" cy="409"/></g><g id="n37"><circle cx="1104" cy="430"/></g><g id="n38"><circle cx="1112" cy="451"/></g><g id="n39"><circle cx="1113" cy="472"/></g><g id="n40"><circle cx="1113" cy="493"/></g><g id="n41"><circle cx="1134" cy="515"/></g>
<g id="n42"><circle cx="1004" cy="451"/></g><g id="n43"><circle cx="1004" cy="472"/></g><g id="n44"><circle cx="1004" cy="493"/></g><g id="n45"><circle cx="1004" cy="515"/></g><g id="n46"><circle cx="1004" cy="536"/></g><g id="n47"><circle cx="1004" cy="557"/></g><g id="n48"><circle cx="1004" cy="578"/></g><g id="n49"><circle cx="1004" cy="599"/></g><g id="n50"><circle cx="1004" cy="621"/></g><g id="n51"><circle cx="824" cy="642"/></g><g id="n52"><circle cx="618" cy="663"/></g><g id="n53"><circle cx="1059" cy="599"/></g><g id="n54"><circle cx="1059" cy="621"/></g><g id="n55"><circle cx="1059" cy="642"/></g><g id="n56"><circle cx="1059" cy="663"/></g><g id="n57"><circle cx="1059" cy="684"/></g><g id="n58"><circle cx="1059" cy="705"/></g><g id="n59"><circle cx="1059" cy="727"/></g><g id="n60"><circle cx="1059" cy="748"/></g><g id="n61"><circle cx="1059" cy="769"/></g>
<g id="n62"><circle cx="1135" cy="536"/></g><g id="n63"><circle cx="1135" cy="557"/></g><g id="n64"><circle cx="1135" cy="578"/></g><g id="n65"><circle cx="1135" cy="599"/></g><g id="n66"><circle cx="1135" cy="621"/></g><g id="n67"><circle cx="1135" cy="642"/></g><g id="n68"><circle cx="1135" cy="663"/></g><g id="n69"><circle cx="1135" cy="684"/></g><g id="n70"><circle cx="1135" cy="705"/></g><g id="n71"><circle cx="1135" cy="727"/></g><g id="n72"><circle cx="1135" cy="748"/></g><g id="n73"><circle cx="1135" cy="769"/></g><g id="n74"><circle cx="1135" cy="790"/></g><g id="n75"><circle cx="1293" cy="599"/></g>
<g id="n76"><circle cx="1011" cy="748"/></g><g id="n77"><circle cx="1094" cy="748"/></g><g id="n78"><circle cx="1000" cy="769"/></g><g id="n79"><circle cx="959" cy="790"/></g><g id="n80"><circle cx="956" cy="811"/></g><g id="n81"><circle cx="956" cy="833"/></g><g id="n82"><circle cx="956" cy="854"/></g><g id="n83"><circle cx="956" cy="875"/></g><g id="n84"><circle cx="956" cy="896"/></g><g id="n85"><circle cx="956" cy="917"/></g><g id="n86"><circle cx="927" cy="833"/></g><g id="n87"><circle cx="872" cy="854"/></g><g id="n88"><circle cx="844" cy="875"/></g><g id="n89"><circle cx="844" cy="896"/></g><g id="n90"><circle cx="816" cy="917"/></g><g id="n91"><circle cx="844" cy="917"/></g><g id="n92"><circle cx="828" cy="939"/></g><g id="n93"><circle cx="828" cy="960"/></g><g id="n94"><circle cx="828" cy="981"/></g><g id="n95"><circle cx="828" cy="1002"/></g><g id="n96"><circle cx="828" cy="1023"/></g><g id="n97"><circle cx="828" cy="1045"/></g><g id="n98"><circle cx="828" cy="1066"/></g><g id="n99"><circle cx="800" cy="960"/></g><g id="n100"><circle cx="800" cy="981"/></g><g id="n101"><circle cx="800" cy="1002"/></g><g id="n102"><circle cx="800" cy="1023"/></g><g id="n103"><circle cx="786" cy="1045"/></g><g id="n104"><circle cx="786" cy="1066"/></g><g id="n105"><circle cx="779" cy="1087"/></g><g id="n106"><circle cx="752" cy="1108"/></g><g id="n107"><circle cx="717" cy="1130"/></g><g id="n108"><circle cx="779" cy="1108"/></g><g id="n109"><circle cx="745" cy="1130"/></g><g id="n110"><circle cx="772" cy="1130"/></g><g id="n111"><circle cx="772" cy="1151"/></g><g id="n112"><circle cx="745" cy="1151"/></g><g id="n113"><circle cx="567" cy="1172"/></g><g id="n114"><circle cx="828" cy="1087"/></g><g id="n115"><circle cx="828" cy="1108"/></g><g id="n116"><circle cx="828" cy="1130"/></g><g id="n117"><circle cx="828" cy="1151"/></g><g id="n118"><circle cx="828" cy="1172"/></g><g id="n119"><circle cx="828" cy="1193"/></g><g id="n120"><circle cx="924" cy="1066"/></g><g id="n121"><circle cx="800" cy="1130"/></g><g id="n122"><circle cx="800" cy="1151"/></g><g id="n123"><circle cx="800" cy="1172"/></g><g id="n124"><circle cx="855" cy="1130"/></g><g id="n125"><circle cx="855" cy="1151"/></g><g id="n126"><circle cx="855" cy="1172"/></g><g id="n127"><circle cx="855" cy="1193"/></g><g id="n128"><circle cx="855" cy="1214"/></g><g id="n129"><circle cx="855" cy="1236"/></g>
<g id="n130"><circle cx="717" cy="1193"/></g><g id="n131"><circle cx="786" cy="1193"/></g><g id="n132"><circle cx="688" cy="1214"/></g><g id="n133"><circle cx="688" cy="1236"/></g><g id="n134"><circle cx="688" cy="1257"/></g><g id="n135"><circle cx="683" cy="1278"/></g><g id="n136"><circle cx="669" cy="1299"/></g><g id="n137"><circle cx="662" cy="1320"/></g><g id="n138"><circle cx="621" cy="1342"/></g><g id="n139"><circle cx="731" cy="1214"/></g><g id="n140"><circle cx="717" cy="1236"/></g><g id="n141"><circle cx="717" cy="1257"/></g><g id="n142"><circle cx="772" cy="1214"/></g><g id="n143"><circle cx="772" cy="1236"/></g><g id="n144"><circle cx="772" cy="1257"/></g><g id="n145"><circle cx="772" cy="1278"/></g><g id="n146"><circle cx="772" cy="1299"/></g><g id="n147"><circle cx="772" cy="1320"/></g><g id="n148"><circle cx="772" cy="1342"/></g><g id="n149"><circle cx="772" cy="1363"/></g><g id="n150"><circle cx="745" cy="1236"/></g><g id="n151"><circle cx="745" cy="1257"/></g><g id="n152"><circle cx="745" cy="1278"/></g><g id="n153"><circle cx="717" cy="1278"/></g><g id="n154"><circle cx="717" cy="1299"/></g><g id="n155"><circle cx="690" cy="1320"/></g><g id="n156"><circle cx="717" cy="1320"/></g><g id="n157"><circle cx="745" cy="1320"/></g><g id="n158"><circle cx="690" cy="1342"/></g><g id="n159"><circle cx="717" cy="1342"/></g><g id="n160"><circle cx="745" cy="1342"/></g><g id="n161"><circle cx="745" cy="1363"/></g><g id="n162"><circle cx="800" cy="1214"/></g><g id="n163"><circle cx="800" cy="1236"/></g><g id="n164"><circle cx="800" cy="1257"/></g><g id="n165"><circle cx="828" cy="1257"/></g><g id="n166"><circle cx="800" cy="1278"/></g><g id="n167"><circle cx="828" cy="1278"/></g><g id="n168"><circle cx="855" cy="1278"/></g><g id="n169"><circle cx="848" cy="1299"/></g><g id="n170"><circle cx="841" cy="1320"/></g><g id="n171"><circle cx="828" cy="1342"/></g><g id="n172"><circle cx="800" cy="1363"/></g><g id="n173"><circle cx="828" cy="1363"/></g><g id="n174"><circle cx="828" cy="1384"/></g><g id="n175"><circle cx="855" cy="1342"/></g><g id="n176"><circle cx="855" cy="1363"/></g><g id="n177"><circle cx="855" cy="1384"/></g><g id="n178"><circle cx="883" cy="1193"/></g><g id="n179"><circle cx="883" cy="1214"/></g><g id="n180"><circle cx="883" cy="1236"/></g><g id="n181"><circle cx="883" cy="1257"/></g><g id="n182"><circle cx="883" cy="1278"/></g><g id="n183"><circle cx="883" cy="1299"/></g><g id="n184"><circle cx="883" cy="1320"/></g><g id="n185"><circle cx="883" cy="1342"/></g><g id="n186"><circle cx="883" cy="1363"/></g><g id="n187"><circle cx="910" cy="1172"/></g><g id="n188"><circle cx="910" cy="1193"/></g><g id="n189"><circle cx="924" cy="1087"/></g><g id="n190"><circle cx="924" cy="1108"/></g><g id="n191"><circle cx="924" cy="1130"/></g><g id="n192"><circle cx="924" cy="1151"/></g><g id="n193"><circle cx="938" cy="1172"/></g><g id="n194"><circle cx="938" cy="1193"/></g><g id="n195"><circle cx="938" cy="1214"/></g><g id="n196"><circle cx="938" cy="1236"/></g><g id="n197"><circle cx="938" cy="1257"/></g><g id="n198"><circle cx="910" cy="1278"/></g><g id="n199"><circle cx="938" cy="1278"/></g><g id="n200"><circle cx="966" cy="1278"/></g><g id="n201"><circle cx="910" cy="1299"/></g><g id="n202"><circle cx="910" cy="1320"/></g><g id="n203"><circle cx="910" cy="1342"/></g><g id="n204"><circle cx="910" cy="1363"/></g><g id="n205"><circle cx="940" cy="1299"/></g><g id="n206"><circle cx="942" cy="1320"/></g><g id="n207"><circle cx="942" cy="1342"/></g><g id="n208"><circle cx="942" cy="1363"/></g><g id="n209"><circle cx="978" cy="1342"/></g><g id="n210"><circle cx="995" cy="1363"/></g><g id="n211"><circle cx="971" cy="1384"/></g><g id="n212"><circle cx="998" cy="1384"/></g><g id="n213"><circle cx="1026" cy="1384"/></g><g id="n214"><circle cx="998" cy="1405"/></g><g id="n215"><circle cx="1005" cy="1426"/></g><g id="n216"><circle cx="1026" cy="1405"/></g><g id="n217"><circle cx="1040" cy="1426"/></g><g id="n218"><circle cx="1091" cy="1448"/></g><g id="n219"><circle cx="1126" cy="1448"/></g><g id="n220"><circle cx="1188" cy="1448"/></g><g id="n221"><circle cx="1023" cy="1448"/></g><g id="n222"><circle cx="978" cy="1426"/></g><g id="n223"><circle cx="1051" cy="1448"/></g><g id="n224"><circle cx="967" cy="1448"/></g><g id="n225"><circle cx="996" cy="1448"/></g><g id="n226"><circle cx="967" cy="1469"/></g><g id="n227"><circle cx="967" cy="1490"/></g><g id="n228"><circle cx="967" cy="1511"/></g><g id="n229"><circle cx="967" cy="1532"/></g><g id="n230"><circle cx="996" cy="1469"/></g><g id="n231"><circle cx="1023" cy="1469"/></g><g id="n232"><circle cx="996" cy="1490"/></g><g id="n233"><circle cx="1023" cy="1490"/></g><g id="n234"><circle cx="1051" cy="1469"/></g><g id="n235"><circle cx="1051" cy="1490"/></g><g id="n236"><circle cx="1079" cy="1490"/></g><g id="n237"><circle cx="1105" cy="1469"/></g><g id="n238"><circle cx="1105" cy="1490"/></g><g id="n239"><circle cx="1133" cy="1490"/></g><g id="n240"><circle cx="1105" cy="1511"/></g><g id="n241"><circle cx="1155" cy="1469"/></g><g id="n242"><circle cx="1162" cy="1490"/></g><g id="n243"><circle cx="1162" cy="1511"/></g><g id="n244"><circle cx="1168" cy="1532"/></g><g id="n245"><circle cx="1188" cy="1469"/></g><g id="n246"><circle cx="1188" cy="1490"/></g><g id="n247"><circle cx="1188" cy="1511"/></g><g id="n248"><circle cx="1216" cy="1469"/></g><g id="n249"><circle cx="1216" cy="1490"/></g>
<g id="n250"><circle cx="993" cy="1511"/></g><g id="n251"><circle cx="993" cy="1532"/></g><g id="n252"><circle cx="1021" cy="1511"/></g><g id="n253"><circle cx="1049" cy="1511"/></g><g id="n254"><circle cx="1076" cy="1511"/></g><g id="n255"><circle cx="1035" cy="1532"/></g><g id="n256"><circle cx="1042" cy="1554"/></g><g id="n257"><circle cx="1076" cy="1532"/></g><g id="n258"><circle cx="1076" cy="1554"/></g><g id="n259"><circle cx="1091" cy="1575"/></g><g id="n260"><circle cx="1111" cy="1596"/></g><g id="n261"><circle cx="1131" cy="1617"/></g><g id="n262"><circle cx="1000" cy="1554"/></g><g id="n263"><circle cx="1007" cy="1575"/></g><g id="n264"><circle cx="1062" cy="1596"/></g><g id="n265"><circle cx="1049" cy="1617"/></g><g id="n266"><circle cx="1076" cy="1617"/></g><g id="n267"><circle cx="1104" cy="1617"/></g><g id="n268"><circle cx="1049" cy="1638"/></g><g id="n269"><circle cx="1059" cy="1660"/></g><g id="n270"><circle cx="1076" cy="1638"/></g><g id="n271"><circle cx="1104" cy="1638"/></g><g id="n272"><circle cx="1091" cy="1660"/></g><g id="n273"><circle cx="1104" cy="1681"/></g><g id="n274"><circle cx="1104" cy="1702"/></g><g id="n275"><circle cx="1076" cy="1681"/></g><g id="n276"><circle cx="1076" cy="1702"/></g><g id="n277"><circle cx="1076" cy="1723"/></g><g id="n278"><circle cx="1076" cy="1744"/></g><g id="n279"><circle cx="1076" cy="1766"/></g><g id="n280"><circle cx="1076" cy="1787"/></g><g id="n281"><circle cx="1131" cy="1638"/></g><g id="n282"><circle cx="1131" cy="1660"/></g><g id="n283"><circle cx="1159" cy="1660"/></g><g id="n284"><circle cx="1159" cy="1681"/></g><g id="n285"><circle cx="1159" cy="1702"/></g><g id="n286"><circle cx="1159" cy="1723"/></g><g id="n287"><circle cx="1159" cy="1744"/></g><g id="n288"><circle cx="1159" cy="1766"/></g><g id="n289"><circle cx="1159" cy="1787"/></g><g id="n290"><circle cx="1159" cy="1808"/></g><g id="n291"><circle cx="1159" cy="1829"/></g><g id="n292"><circle cx="1159" cy="1850"/></g><g id="n293"><circle cx="1104" cy="1744"/></g><g id="n294"><circle cx="1104" cy="1766"/></g><g id="n295"><circle cx="1104" cy="1787"/></g><g id="n296"><circle cx="1131" cy="1787"/></g><g id="n297"><circle cx="1131" cy="1808"/></g><g id="n298"><circle cx="1131" cy="1829"/></g><g id="n299"><circle cx="1131" cy="1850"/></g><g id="n300"><circle cx="1186" cy="1766"/></g><g id="n301"><circle cx="1186" cy="1787"/></g><g id="n302"><circle cx="1186" cy="1808"/></g><g id="n303"><circle cx="1186" cy="1829"/></g><g id="n304"><circle cx="1186" cy="1850"/></g><g id="n305"><circle cx="1186" cy="1872"/></g><g id="n306"><circle cx="1186" cy="1893"/></g><g id="n307"><circle cx="1186" cy="1914"/></g><g id="n308"><circle cx="1214" cy="1850"/></g><g id="n309"><circle cx="1214" cy="1872"/></g><g id="n310"><circle cx="1214" cy="1893"/></g><g id="n311"><circle cx="1214" cy="1914"/></g><g id="n312"><circle cx="1214" cy="1935"/></g><g id="n313"><circle cx="1214" cy="1956"/></g><g id="n314"><circle cx="1214" cy="1978"/></g><g id="n315"><circle cx="1214" cy="1999"/></g><g id="n316"><circle cx="1214" cy="2020"/></g><g id="n317"><circle cx="1242" cy="1914"/></g><g id="n318"><circle cx="1242" cy="1935"/></g><g id="n319"><circle cx="1242" cy="1956"/></g><g id="n320"><circle cx="1242" cy="1978"/></g><g id="n321"><circle cx="1269" cy="1935"/></g><g id="n322"><circle cx="1269" cy="1956"/></g><g id="n323"><circle cx="1269" cy="1978"/></g>
<g id="n324"><circle cx="1297" cy="1766"/></g><g id="n325"><circle cx="1297" cy="1787"/></g><g id="n326"><circle cx="1297" cy="1808"/></g><g id="n327"><circle cx="1297" cy="1829"/></g><g id="n328"><circle cx="1297" cy="1850"/></g><g id="n329"><circle cx="1297" cy="1872"/></g><g id="n330"><circle cx="1297" cy="1893"/></g><g id="n331"><circle cx="1297" cy="1914"/></g><g id="n332"><circle cx="1297" cy="1935"/></g><g id="n333"><circle cx="1297" cy="1956"/></g><g id="n334"><circle cx="1297" cy="1978"/></g><g id="n335"><circle cx="1297" cy="1999"/></g><g id="n336"><circle cx="1297" cy="2020"/></g><g id="n337"><circle cx="1338" cy="1744"/></g><g id="n338"><circle cx="1269" cy="1829"/></g><g id="n339"><circle cx="1382" cy="1723"/></g><g id="n340"><circle cx="1382" cy="1744"/></g><g id="n341"><circle cx="1382" cy="1766"/></g><g id="n342"><circle cx="1384" cy="1702"/></g><g id="n343"><circle cx="1386" cy="1681"/></g><g id="n344"><circle cx="1407" cy="1660"/></g><g id="n345"><circle cx="1407" cy="1638"/></g><g id="n346"><circle cx="1407" cy="1617"/></g><g id="n347"><circle cx="1407" cy="1596"/></g><g id="n348"><circle cx="1413" cy="1681"/></g><g id="n349"><circle cx="1413" cy="1702"/></g><g id="n350"><circle cx="1413" cy="1723"/></g><g id="n351"><circle cx="1413" cy="1744"/></g><g id="n352"><circle cx="1413" cy="1766"/></g><g id="n353"><circle cx="1438" cy="1787"/></g><g id="n354"><circle cx="1438" cy="1808"/></g><g id="n355"><circle cx="1355" cy="1787"/></g><g id="n356"><circle cx="1355" cy="1808"/></g><g id="n357"><circle cx="1355" cy="1829"/></g><g id="n358"><circle cx="1355" cy="1850"/></g><g id="n359"><circle cx="1355" cy="1872"/></g><g id="n360"><circle cx="1410" cy="1787"/></g><g id="n361"><circle cx="1410" cy="1808"/></g><g id="n362"><circle cx="1416" cy="1829"/></g><g id="n363"><circle cx="1443" cy="1850"/></g><g id="n364"><circle cx="1457" cy="1872"/></g><g id="n365"><circle cx="1435" cy="1893"/></g><g id="n366"><circle cx="1463" cy="1893"/></g><g id="n367"><circle cx="1490" cy="1893"/></g><g id="n368"><circle cx="1435" cy="1914"/></g><g id="n369"><circle cx="1463" cy="1914"/></g><g id="n370"><circle cx="1463" cy="1935"/></g><g id="n371"><circle cx="1490" cy="1914"/></g><g id="n372"><circle cx="1518" cy="1914"/></g><g id="n373"><circle cx="1518" cy="1935"/></g><g id="n374"><circle cx="1518" cy="1956"/></g><g id="n375"><circle cx="1354" cy="1893"/></g><g id="n376"><circle cx="1396" cy="1893"/></g><g id="n377"><circle cx="1407" cy="1914"/></g><g id="n378"><circle cx="1324" cy="1914"/></g><g id="n379"><circle cx="1352" cy="1914"/></g><g id="n380"><circle cx="1352" cy="1935"/></g><g id="n381"><circle cx="1352" cy="1956"/></g><g id="n382"><circle cx="1352" cy="1978"/></g><g id="n383"><circle cx="1352" cy="1999"/></g><g id="n384"><circle cx="1352" cy="2020"/></g><g id="n385"><circle cx="1380" cy="1914"/></g><g id="n386"><circle cx="1380" cy="1935"/></g>
<g id="n387"><circle cx="1351" cy="1596"/></g><g id="n388"><circle cx="1386" cy="1575"/></g><g id="n389"><circle cx="1379" cy="1596"/></g><g id="n390"><circle cx="1379" cy="1617"/></g><g id="n391"><circle cx="1378" cy="1638"/></g><g id="n392"><circle cx="1365" cy="1660"/></g><g id="n393"><circle cx="1358" cy="1681"/></g><g id="n394"><circle cx="1421" cy="1405"/></g><g id="n395"><circle cx="1421" cy="1426"/></g><g id="n396"><circle cx="1421" cy="1448"/></g><g id="n397"><circle cx="1421" cy="1469"/></g><g id="n398"><circle cx="1421" cy="1490"/></g><g id="n399"><circle cx="1421" cy="1511"/></g><g id="n400"><circle cx="1421" cy="1532"/></g><g id="n401"><circle cx="1421" cy="1554"/></g><g id="n402"><circle cx="1421" cy="1575"/></g><g id="n403"><circle cx="1434" cy="1596"/></g><g id="n404"><circle cx="1436" cy="1617"/></g><g id="n405"><circle cx="1439" cy="1638"/></g><g id="n406"><circle cx="1439" cy="1660"/></g><g id="n407"><circle cx="1441" cy="1681"/></g><g id="n408"><circle cx="1441" cy="1702"/></g><g id="n409"><circle cx="1441" cy="1723"/></g><g id="n410"><circle cx="1448" cy="1511"/></g><g id="n411"><circle cx="1448" cy="1532"/></g><g id="n412"><circle cx="1448" cy="1554"/></g><g id="n413"><circle cx="1448" cy="1575"/></g><g id="n414"><circle cx="1393" cy="1405"/></g><g id="n415"><circle cx="1393" cy="1426"/></g><g id="n416"><circle cx="1393" cy="1448"/></g><g id="n417"><circle cx="1393" cy="1469"/></g><g id="n418"><circle cx="1393" cy="1490"/></g><g id="n419"><circle cx="1393" cy="1511"/></g><g id="n420"><circle cx="1393" cy="1532"/></g><g id="n421"><circle cx="1393" cy="1554"/></g><g id="n422"><circle cx="1365" cy="1426"/></g><g id="n423"><circle cx="1365" cy="1448"/></g><g id="n424"><circle cx="1365" cy="1469"/></g><g id="n425"><circle cx="1365" cy="1490"/></g><g id="n426"><circle cx="1338" cy="1511"/></g><g id="n427"><circle cx="1338" cy="1532"/></g><g id="n428"><circle cx="1338" cy="1554"/></g><g id="n429"><circle cx="1365" cy="1511"/></g><g id="n430"><circle cx="1365" cy="1532"/></g><g id="n431"><circle cx="1338" cy="1426"/></g><g id="n432"><circle cx="1338" cy="1448"/></g><g id="n433"><circle cx="1338" cy="1469"/></g><g id="n434"><circle cx="1338" cy="1490"/></g><g id="n435"><circle cx="1351" cy="1405"/></g><g id="n436"><circle cx="1407" cy="1384"/></g><g id="n437"><circle cx="1476" cy="1426"/></g><g id="n438"><circle cx="1476" cy="1448"/></g><g id="n439"><circle cx="1476" cy="1469"/></g><g id="n440"><circle cx="1476" cy="1490"/></g><g id="n441"><circle cx="1475" cy="1405"/></g><g id="n442"><circle cx="1448" cy="1448"/></g><g id="n443"><circle cx="1504" cy="1426"/></g><g id="n444"><circle cx="1504" cy="1448"/></g><g id="n445"><circle cx="1504" cy="1469"/></g>
<g id="n446"><circle cx="1468" cy="1193"/></g><g id="n447"><circle cx="1468" cy="1214"/></g><g id="n448"><circle cx="1468" cy="1236"/></g><g id="n449"><circle cx="1468" cy="1257"/></g><g id="n450"><circle cx="1468" cy="1299"/></g><g id="n451"><circle cx="1468" cy="1320"/></g><g id="n452"><circle cx="1468" cy="1342"/></g><g id="n453"><circle cx="1468" cy="1363"/></g><g id="n454"><circle cx="1468" cy="1384"/></g><g id="n455"><circle cx="1495" cy="1151"/></g><g id="n456"><circle cx="1495" cy="1172"/></g><g id="n457"><circle cx="1495" cy="1193"/></g><g id="n458"><circle cx="1495" cy="1214"/></g><g id="n459"><circle cx="1495" cy="1236"/></g><g id="n460"><circle cx="1495" cy="1257"/></g><g id="n461"><circle cx="1495" cy="1278"/></g><g id="n462"><circle cx="1495" cy="1299"/></g><g id="n463"><circle cx="1495" cy="1320"/></g><g id="n464"><circle cx="1510" cy="1130"/></g><g id="n465"><circle cx="1523" cy="1151"/></g><g id="n466"><circle cx="1564" cy="1151"/></g><g id="n467"><circle cx="1523" cy="1172"/></g><g id="n468"><circle cx="1523" cy="1193"/></g><g id="n469"><circle cx="1523" cy="1214"/></g><g id="n470"><circle cx="1523" cy="1236"/></g><g id="n471"><circle cx="1523" cy="1257"/></g><g id="n472"><circle cx="1523" cy="1278"/></g><g id="n473"><circle cx="1523" cy="1299"/></g><g id="n474"><circle cx="1523" cy="1320"/></g><g id="n475"><circle cx="1551" cy="1172"/></g><g id="n476"><circle cx="1551" cy="1193"/></g><g id="n477"><circle cx="1551" cy="1214"/></g><g id="n478"><circle cx="1551" cy="1236"/></g><g id="n479"><circle cx="1551" cy="1257"/></g><g id="n480"><circle cx="1551" cy="1278"/></g><g id="n481"><circle cx="1551" cy="1299"/></g><g id="n482"><circle cx="1578" cy="1172"/></g><g id="n483"><circle cx="1578" cy="1193"/></g><g id="n484"><circle cx="1579" cy="1214"/></g><g id="n485"><circle cx="1578" cy="1236"/></g><g id="n486"><circle cx="1578" cy="1257"/></g><g id="n487"><circle cx="1578" cy="1278"/></g><g id="n488"><circle cx="1606" cy="1236"/></g><g id="n489"><circle cx="1606" cy="1278"/></g><g id="n490"><circle cx="1619" cy="1257"/></g><g id="n491"><circle cx="1633" cy="1278"/></g>
<g id="n492"><circle cx="1440" cy="1151"/></g><g id="n493"><circle cx="1440" cy="1172"/></g><g id="n494"><circle cx="1440" cy="1193"/></g><g id="n495"><circle cx="1440" cy="1214"/></g><g id="n496"><circle cx="1440" cy="1236"/></g><g id="n497"><circle cx="1440" cy="1257"/></g><g id="n498"><circle cx="1440" cy="1278"/></g><g id="n499"><circle cx="1440" cy="1299"/></g><g id="n500"><circle cx="1440" cy="1320"/></g><g id="n501"><circle cx="1440" cy="1342"/></g><g id="n502"><circle cx="1440" cy="1363"/></g><g id="n503"><circle cx="1412" cy="1193"/></g><g id="n504"><circle cx="1412" cy="1214"/></g><g id="n505"><circle cx="1412" cy="1236"/></g><g id="n506"><circle cx="1412" cy="1278"/></g><g id="n507"><circle cx="1357" cy="1151"/></g><g id="n508"><circle cx="1367" cy="1130"/></g><g id="n509"><circle cx="1374" cy="1108"/></g><g id="n510"><circle cx="1387" cy="1087"/></g><g id="n511"><circle cx="1394" cy="1130"/></g><g id="n512"><circle cx="1385" cy="1151"/></g><g id="n513"><circle cx="1412" cy="1151"/></g><g id="n514"><circle cx="1357" cy="1172"/></g><g id="n515"><circle cx="1357" cy="1193"/></g><g id="n516"><circle cx="1357" cy="1214"/></g><g id="n517"><circle cx="1357" cy="1236"/></g><g id="n518"><circle cx="1385" cy="1172"/></g><g id="n519"><circle cx="1385" cy="1193"/></g><g id="n520"><circle cx="1385" cy="1214"/></g><g id="n521"><circle cx="1385" cy="1236"/></g><g id="n522"><circle cx="1422" cy="1066"/></g><g id="n523"><circle cx="1422" cy="1087"/></g><g id="n524"><circle cx="1422" cy="1108"/></g><g id="n525"><circle cx="1422" cy="1130"/></g><g id="n526"><circle cx="1429" cy="1045"/></g><g id="n527"><circle cx="1437" cy="1023"/></g><g id="n528"><circle cx="1437" cy="1002"/></g><g id="n529"><circle cx="1437" cy="981"/></g><g id="n530"><circle cx="1437" cy="960"/></g><g id="n531"><circle cx="1439" cy="939"/></g><g id="n532"><circle cx="1440" cy="917"/></g><g id="n533"><circle cx="1444" cy="896"/></g><g id="n534"><circle cx="1445" cy="875"/></g><g id="n535"><circle cx="1473" cy="854"/></g><g id="n536"><circle cx="1473" cy="833"/></g><g id="n537"><circle cx="1490" cy="811"/></g><g id="n538"><circle cx="1526" cy="790"/></g><g id="n539"><circle cx="1526" cy="811"/></g><g id="n540"><circle cx="1541" cy="769"/></g><g id="n541"><circle cx="1563" cy="790"/></g><g id="n542"><circle cx="1541" cy="748"/></g><g id="n543"><circle cx="1541" cy="727"/></g><g id="n544"><circle cx="1492" cy="705"/></g><g id="n545"><circle cx="1689" cy="727"/></g><g id="n546"><circle cx="1618" cy="748"/></g><g id="n547"><circle cx="1645" cy="769"/></g><g id="n548"><circle cx="1645" cy="790"/></g><g id="n549"><circle cx="1645" cy="811"/></g><g id="n550"><circle cx="1472" cy="875"/></g><g id="n551"><circle cx="1500" cy="875"/></g><g id="n552"><circle cx="1500" cy="896"/></g><g id="n553"><circle cx="1486" cy="917"/></g><g id="n554"><circle cx="1514" cy="917"/></g><g id="n555"><circle cx="1634" cy="939"/></g><g id="n556"><circle cx="1507" cy="833"/></g><g id="n557"><circle cx="1535" cy="833"/></g><g id="n558"><circle cx="1524" cy="854"/></g><g id="n559"><circle cx="1535" cy="875"/></g><g id="n560"><circle cx="1538" cy="896"/></g><g id="n561"><circle cx="1541" cy="917"/></g><g id="n562"><circle cx="1563" cy="811"/></g><g id="n563"><circle cx="1563" cy="833"/></g><g id="n564"><circle cx="1563" cy="854"/></g><g id="n565"><circle cx="1590" cy="811"/></g><g id="n566"><circle cx="1590" cy="833"/></g><g id="n567"><circle cx="1590" cy="854"/></g><g id="n568"><circle cx="1618" cy="769"/></g><g id="n569"><circle cx="1618" cy="790"/></g><g id="n570"><circle cx="1618" cy="811"/></g><g id="n571"><circle cx="1633" cy="833"/></g><g id="n572"><circle cx="1641" cy="854"/></g><g id="n573"><circle cx="1648" cy="875"/></g><g id="n574"><circle cx="1648" cy="896"/></g><g id="n575"><circle cx="1648" cy="917"/></g><g id="n576"><circle cx="1676" cy="917"/></g><g id="n577"><circle cx="1678" cy="939"/></g><g id="n578"><circle cx="1692" cy="960"/></g><g id="n579"><circle cx="1692" cy="981"/></g><g id="n580"><circle cx="1695" cy="1002"/></g><g id="n581"><circle cx="1700" cy="1023"/></g><g id="n582"><circle cx="1713" cy="1045"/></g><g id="n583"><circle cx="1716" cy="1066"/></g><g id="n584"><circle cx="1716" cy="1087"/></g><g id="n585"><circle cx="1716" cy="1108"/></g><g id="n586"><circle cx="1744" cy="1130"/></g><g id="n587"><circle cx="1716" cy="1130"/></g><g id="n588"><circle cx="1716" cy="1151"/></g><g id="n589"><circle cx="1716" cy="1172"/></g><g id="n590"><circle cx="1716" cy="1193"/></g><g id="n591"><circle cx="1681" cy="1108"/></g><g id="n592"><circle cx="1669" cy="1087"/></g><g id="n593"><circle cx="1637" cy="1066"/></g><g id="n594"><circle cx="1603" cy="1045"/></g><g id="n595"><circle cx="1637" cy="1087"/></g><g id="n596"><circle cx="1637" cy="1108"/></g><g id="n597"><circle cx="1610" cy="1108"/></g><g id="n598"><circle cx="1606" cy="1130"/></g><g id="n599"><circle cx="1606" cy="1151"/></g><g id="n600"><circle cx="1606" cy="1172"/></g><g id="n601"><circle cx="1606" cy="1193"/></g><g id="n602"><circle cx="1606" cy="1214"/></g><g id="n603"><circle cx="1633" cy="1130"/></g><g id="n604"><circle cx="1633" cy="1151"/></g><g id="n605"><circle cx="1633" cy="1172"/></g><g id="n606"><circle cx="1633" cy="1193"/></g><g id="n607"><circle cx="1633" cy="1214"/></g><g id="n608"><circle cx="1633" cy="1236"/></g><g id="n609"><circle cx="1661" cy="1130"/></g><g id="n610"><circle cx="1661" cy="1151"/></g><g id="n611"><circle cx="1661" cy="1172"/></g><g id="n612"><circle cx="1661" cy="1193"/></g><g id="n613"><circle cx="1661" cy="1214"/></g><g id="n614"><circle cx="1661" cy="1236"/></g><g id="n615"><circle cx="1688" cy="1130"/></g><g id="n616"><circle cx="1688" cy="1172"/></g><g id="n617"><circle cx="1688" cy="1193"/></g><g id="n618"><circle cx="1688" cy="1214"/></g><g id="n619"><circle cx="1688" cy="1236"/></g><g id="n620"><circle cx="1607" cy="960"/></g><g id="n621"><circle cx="1636" cy="960"/></g><g id="n622"><circle cx="1664" cy="960"/></g><g id="n623"><circle cx="1636" cy="981"/></g><g id="n624"><circle cx="1607" cy="981"/></g><g id="n625"><circle cx="1607" cy="1002"/></g><g id="n626"><circle cx="1636" cy="1002"/></g><g id="n627"><circle cx="1620" cy="1023"/></g><g id="n628"><circle cx="1630" cy="1045"/></g><g id="n629"><circle cx="1659" cy="1045"/></g>
<g id="n630"><circle cx="1690" cy="748"/></g><g id="n631"><circle cx="1690" cy="769"/></g><g id="n632"><circle cx="1730" cy="748"/></g><g id="n633"><circle cx="1758" cy="769"/></g><g id="n634"><circle cx="1730" cy="769"/></g><g id="n635"><circle cx="1730" cy="790"/></g><g id="n636"><circle cx="1730" cy="811"/></g><g id="n637"><circle cx="1730" cy="833"/></g><g id="n638"><circle cx="1758" cy="790"/></g><g id="n639"><circle cx="1758" cy="811"/></g><g id="n640"><circle cx="1758" cy="833"/></g><g id="n641"><circle cx="1785" cy="833"/></g><g id="n642"><circle cx="1785" cy="854"/></g><g id="n643"><circle cx="1785" cy="875"/></g><g id="n644"><circle cx="1785" cy="896"/></g><g id="n645"><circle cx="1676" cy="790"/></g><g id="n646"><circle cx="1703" cy="790"/></g><g id="n647"><circle cx="1676" cy="811"/></g><g id="n648"><circle cx="1676" cy="833"/></g><g id="n649"><circle cx="1676" cy="854"/></g><g id="n650"><circle cx="1676" cy="875"/></g><g id="n651"><circle cx="1691" cy="896"/></g><g id="n652"><circle cx="1705" cy="917"/></g><g id="n653"><circle cx="1718" cy="939"/></g><g id="n654"><circle cx="1734" cy="960"/></g><g id="n655"><circle cx="1721" cy="981"/></g><g id="n656"><circle cx="1748" cy="981"/></g><g id="n657"><circle cx="1775" cy="981"/></g><g id="n658"><circle cx="1748" cy="1002"/></g><g id="n659"><circle cx="1748" cy="1023"/></g><g id="n660"><circle cx="1748" cy="1045"/></g><g id="n661"><circle cx="1775" cy="1002"/></g><g id="n662"><circle cx="1775" cy="1023"/></g><g id="n663"><circle cx="1775" cy="1045"/></g><g id="n664"><circle cx="1744" cy="1066"/></g><g id="n665"><circle cx="1744" cy="1087"/></g><g id="n666"><circle cx="1744" cy="1108"/></g><g id="n667"><circle cx="1771" cy="1066"/></g><g id="n668"><circle cx="1771" cy="1087"/></g><g id="n669"><circle cx="1771" cy="1108"/></g><g id="n670"><circle cx="1771" cy="1130"/></g><g id="n671"><circle cx="1799" cy="1066"/></g><g id="n672"><circle cx="1799" cy="1087"/></g><g id="n673"><circle cx="1799" cy="1108"/></g><g id="n674"><circle cx="1799" cy="1130"/></g><g id="n675"><circle cx="1799" cy="1151"/></g><g id="n676"><circle cx="1799" cy="1172"/></g><g id="n677"><circle cx="1799" cy="1193"/></g><g id="n678"><circle cx="1827" cy="1130"/></g><g id="n679"><circle cx="1827" cy="1151"/></g><g id="n680"><circle cx="1785" cy="1214"/></g><g id="n681"><circle cx="1813" cy="1214"/></g><g id="n682"><circle cx="1785" cy="1236"/></g><g id="n683"><circle cx="1813" cy="1236"/></g>
<g id="n684"><circle cx="1417" cy="621"/></g><g id="n685"><circle cx="1417" cy="642"/></g><g id="n686"><circle cx="1417" cy="663"/></g><g id="n687"><circle cx="1417" cy="684"/></g><g id="n688"><circle cx="1417" cy="705"/></g><g id="n689"><circle cx="1454" cy="642"/></g><g id="n690"><circle cx="1464" cy="663"/></g><g id="n691"><circle cx="1501" cy="684"/></g><g id="n692"><circle cx="1520" cy="705"/></g><g id="n693"><circle cx="1376" cy="705"/></g><g id="n694"><circle cx="1348" cy="727"/></g><g id="n695"><circle cx="1348" cy="748"/></g><g id="n696"><circle cx="1376" cy="727"/></g><g id="n697"><circle cx="1376" cy="748"/></g><g id="n698"><circle cx="1376" cy="769"/></g><g id="n699"><circle cx="1376" cy="790"/></g><g id="n700"><circle cx="1404" cy="727"/></g><g id="n701"><circle cx="1432" cy="727"/></g><g id="n702"><circle cx="1432" cy="748"/></g><g id="n703"><circle cx="1432" cy="769"/></g><g id="n704"><circle cx="1432" cy="790"/></g><g id="n705"><circle cx="1404" cy="790"/></g><g id="n706"><circle cx="1362" cy="811"/></g><g id="n707"><circle cx="1362" cy="833"/></g><g id="n708"><circle cx="1362" cy="854"/></g><g id="n709"><circle cx="1362" cy="875"/></g><g id="n710"><circle cx="1321" cy="854"/></g><g id="n711"><circle cx="1417" cy="811"/></g><g id="n712"><circle cx="1417" cy="833"/></g><g id="n713"><circle cx="1417" cy="854"/></g><g id="n714"><circle cx="1417" cy="875"/></g><g id="n715"><circle cx="1445" cy="811"/></g><g id="n716"><circle cx="1445" cy="833"/></g><g id="n717"><circle cx="1306" cy="875"/></g><g id="n718"><circle cx="1306" cy="896"/></g><g id="n719"><circle cx="1306" cy="917"/></g><g id="n720"><circle cx="1305" cy="939"/></g><g id="n721"><circle cx="1305" cy="960"/></g><g id="n722"><circle cx="1303" cy="981"/></g><g id="n723"><circle cx="1303" cy="1002"/></g><g id="n724"><circle cx="1303" cy="1023"/></g><g id="n725"><circle cx="1303" cy="1045"/></g><g id="n726"><circle cx="1303" cy="1066"/></g><g id="n727"><circle cx="1303" cy="1087"/></g><g id="n728"><circle cx="1331" cy="1087"/></g><g id="n729"><circle cx="1331" cy="1108"/></g><g id="n730"><circle cx="1331" cy="1130"/></g><g id="n731"><circle cx="1331" cy="1151"/></g><g id="n732"><circle cx="1303" cy="1151"/></g><g id="n733"><circle cx="1303" cy="1172"/></g><g id="n734"><circle cx="1274" cy="1066"/></g><g id="n735"><circle cx="1274" cy="1087"/></g>
<g id="n736"><circle cx="1028" cy="1045"/></g><g id="n737"><circle cx="1028" cy="1066"/></g><g id="n738"><circle cx="1028" cy="1087"/></g><g id="n739"><circle cx="1028" cy="1108"/></g><g id="n740"><circle cx="1028" cy="1130"/></g><g id="n741"><circle cx="1028" cy="1151"/></g><g id="n742"><circle cx="1028" cy="1172"/></g><g id="n743"><circle cx="1026" cy="1193"/></g><g id="n744"><circle cx="1026" cy="1214"/></g><g id="n745"><circle cx="1026" cy="1236"/></g><g id="n746"><circle cx="1035" cy="1023"/></g><g id="n747"><circle cx="1076" cy="1002"/></g><g id="n748"><circle cx="1076" cy="1023"/></g><g id="n749"><circle cx="1079" cy="981"/></g><g id="n750"><circle cx="1133" cy="960"/></g><g id="n751"><circle cx="1132" cy="939"/></g><g id="n752"><circle cx="1127" cy="917"/></g><g id="n753"><circle cx="1127" cy="896"/></g><g id="n754"><circle cx="1125" cy="875"/></g><g id="n755"><circle cx="1125" cy="854"/></g><g id="n756"><circle cx="1125" cy="833"/></g><g id="n757"><circle cx="1114" cy="811"/></g><g id="n758"><circle cx="1104" cy="790"/></g><g id="n759"><circle cx="1102" cy="769"/></g><g id="n760"><circle cx="1152" cy="854"/></g><g id="n761"><circle cx="1104" cy="939"/></g><g id="n762"><circle cx="1105" cy="960"/></g><g id="n763"><circle cx="1164" cy="939"/></g><g id="n764"><circle cx="1168" cy="960"/></g><g id="n765"><circle cx="1175" cy="981"/></g><g id="n766"><circle cx="1190" cy="1002"/></g><g id="n767"><circle cx="1190" cy="1023"/></g><g id="n768"><circle cx="1134" cy="981"/></g><g id="n769"><circle cx="1134" cy="1002"/></g><g id="n770"><circle cx="1134" cy="1023"/></g><g id="n771"><circle cx="1136" cy="1045"/></g><g id="n772"><circle cx="1136" cy="1066"/></g><g id="n773"><circle cx="1161" cy="1002"/></g><g id="n774"><circle cx="1161" cy="1023"/></g><g id="n775"><circle cx="1215" cy="1045"/></g><g id="n776"><circle cx="1240" cy="1066"/></g><g id="n777"><circle cx="1247" cy="1087"/></g><g id="n778"><circle cx="1247" cy="1108"/></g><g id="n779"><circle cx="1247" cy="1130"/></g><g id="n780"><circle cx="1247" cy="1151"/></g><g id="n781"><circle cx="1247" cy="1172"/></g><g id="n782"><circle cx="1247" cy="1193"/></g><g id="n783"><circle cx="1247" cy="1214"/></g><g id="n784"><circle cx="1247" cy="1236"/></g><g id="n785"><circle cx="1247" cy="1257"/></g><g id="n786"><circle cx="1247" cy="1278"/></g><g id="n787"><circle cx="1109" cy="1045"/></g><g id="n788"><circle cx="1109" cy="1066"/></g><g id="n789"><circle cx="1109" cy="1087"/></g><g id="n790"><circle cx="1109" cy="1108"/></g><g id="n791"><circle cx="1109" cy="1130"/></g><g id="n792"><circle cx="1109" cy="1151"/></g><g id="n793"><circle cx="1109" cy="1172"/></g><g id="n794"><circle cx="1109" cy="1193"/></g><g id="n795"><circle cx="1109" cy="1214"/></g><g id="n796"><circle cx="1164" cy="1045"/></g><g id="n797"><circle cx="1164" cy="1066"/></g><g id="n798"><circle cx="1205" cy="1066"/></g><g id="n799"><circle cx="1219" cy="1087"/></g><g id="n800"><circle cx="1219" cy="1108"/></g><g id="n801"><circle cx="1219" cy="1130"/></g><g id="n802"><circle cx="1136" cy="1087"/></g><g id="n803"><circle cx="1136" cy="1108"/></g><g id="n804"><circle cx="1164" cy="1087"/></g><g id="n805"><circle cx="1164" cy="1108"/></g><g id="n806"><circle cx="1192" cy="1087"/></g><g id="n807"><circle cx="1192" cy="1108"/></g><g id="n808"><circle cx="1192" cy="1130"/></g><g id="n809"><circle cx="1150" cy="1130"/></g><g id="n810"><circle cx="1136" cy="1151"/></g><g id="n811"><circle cx="1164" cy="1151"/></g><g id="n812"><circle cx="1219" cy="1151"/></g><g id="n813"><circle cx="1219" cy="1172"/></g><g id="n814"><circle cx="1219" cy="1193"/></g><g id="n815"><circle cx="1219" cy="1214"/></g><g id="n816"><circle cx="1136" cy="1172"/></g><g id="n817"><circle cx="1136" cy="1193"/></g><g id="n818"><circle cx="1136" cy="1214"/></g><g id="n819"><circle cx="1136" cy="1236"/></g><g id="n820"><circle cx="1164" cy="1172"/></g><g id="n821"><circle cx="1164" cy="1193"/></g><g id="n822"><circle cx="1164" cy="1214"/></g><g id="n823"><circle cx="1164" cy="1236"/></g><g id="n824"><circle cx="1192" cy="1193"/></g><g id="n825"><circle cx="1192" cy="1214"/></g><g id="n826"><circle cx="1192" cy="1236"/></g><g id="n827"><circle cx="1219" cy="1257"/></g><g id="n828"><circle cx="1219" cy="1278"/></g><g id="n829"><circle cx="1219" cy="1299"/></g><g id="n830"><circle cx="1233" cy="1320"/></g><g id="n831"><circle cx="1288" cy="1214"/></g><g id="n832"><circle cx="1274" cy="1236"/></g><g id="n833"><circle cx="1302" cy="1236"/></g><g id="n834"><circle cx="1330" cy="1236"/></g><g id="n835"><circle cx="1330" cy="1257"/></g><g id="n836"><circle cx="1274" cy="1257"/></g><g id="n837"><circle cx="1274" cy="1278"/></g><g id="n838"><circle cx="1302" cy="1257"/></g><g id="n839"><circle cx="1302" cy="1278"/></g><g id="n840"><circle cx="1302" cy="1299"/></g>
<g id="n841"><circle cx="1054" cy="1193"/></g><g id="n842"><circle cx="1054" cy="1214"/></g><g id="n843"><circle cx="1054" cy="1236"/></g><g id="n844"><circle cx="1054" cy="1257"/></g><g id="n845"><circle cx="1081" cy="1214"/></g><g id="n846"><circle cx="1081" cy="1236"/></g><g id="n847"><circle cx="1081" cy="1257"/></g><g id="n848"><circle cx="1081" cy="1278"/></g><g id="n849"><circle cx="1081" cy="1299"/></g><g id="n850"><circle cx="1081" cy="1320"/></g><g id="n851"><circle cx="1081" cy="1342"/></g><g id="n852"><circle cx="1081" cy="1363"/></g><g id="n853"><circle cx="1081" cy="1384"/></g><g id="n854"><circle cx="1081" cy="1405"/></g><g id="n855"><circle cx="1081" cy="1426"/></g><g id="n856"><circle cx="1109" cy="1236"/></g><g id="n857"><circle cx="1109" cy="1257"/></g><g id="n858"><circle cx="1136" cy="1257"/></g><g id="n859"><circle cx="1164" cy="1257"/></g><g id="n860"><circle cx="1192" cy="1257"/></g><g id="n861"><circle cx="1192" cy="1278"/></g><g id="n862"><circle cx="1109" cy="1278"/></g><g id="n863"><circle cx="1109" cy="1299"/></g><g id="n864"><circle cx="1109" cy="1320"/></g><g id="n865"><circle cx="1109" cy="1342"/></g><g id="n866"><circle cx="1136" cy="1278"/></g><g id="n867"><circle cx="1136" cy="1299"/></g><g id="n868"><circle cx="1164" cy="1278"/></g><g id="n869"><circle cx="1164" cy="1299"/></g><g id="n870"><circle cx="1164" cy="1320"/></g><g id="n871"><circle cx="1164" cy="1342"/></g><g id="n872"><circle cx="1164" cy="1363"/></g><g id="n873"><circle cx="1164" cy="1384"/></g><g id="n874"><circle cx="1164" cy="1405"/></g><g id="n875"><circle cx="1164" cy="1426"/></g><g id="n876"><circle cx="1192" cy="1299"/></g><g id="n877"><circle cx="1205" cy="1320"/></g><g id="n878"><circle cx="1205" cy="1342"/></g><g id="n879"><circle cx="1205" cy="1363"/></g><g id="n880"><circle cx="1212" cy="1384"/></g><g id="n881"><circle cx="1220" cy="1405"/></g><g id="n882"><circle cx="1220" cy="1426"/></g><g id="n883"><circle cx="1233" cy="1342"/></g><g id="n884"><circle cx="1233" cy="1363"/></g><g id="n885"><circle cx="1260" cy="1342"/></g><g id="n886"><circle cx="1260" cy="1363"/></g><g id="n887"><circle cx="1247" cy="1384"/></g><g id="n888"><circle cx="1247" cy="1405"/></g><g id="n889"><circle cx="1247" cy="1426"/></g><g id="n890"><circle cx="1247" cy="1448"/></g><g id="n891"><circle cx="1247" cy="1469"/></g><g id="n892"><circle cx="1247" cy="1490"/></g><g id="n893"><circle cx="1192" cy="1405"/></g><g id="n894"><circle cx="1054" cy="1405"/></g><g id="n895"><circle cx="1109" cy="1384"/></g><g id="n896"><circle cx="1109" cy="1405"/></g><g id="n897"><circle cx="1109" cy="1426"/></g><g id="n898"><circle cx="1136" cy="1405"/></g><g id="n899"><circle cx="1136" cy="1426"/></g>
<g id="n900"><circle cx="662" cy="1342"/></g><g id="n901"><circle cx="662" cy="1363"/></g><g id="n902"><circle cx="662" cy="1384"/></g><g id="n903"><circle cx="662" cy="1405"/></g><g id="n904"><circle cx="662" cy="1426"/></g><g id="n905"><circle cx="662" cy="1490"/></g><g id="n906"><circle cx="662" cy="1511"/></g><g id="n907"><circle cx="662" cy="1532"/></g><g id="n908"><circle cx="662" cy="1554"/></g><g id="n909"><circle cx="662" cy="1575"/></g><g id="n910"><circle cx="662" cy="1596"/></g><g id="n911"><circle cx="662" cy="1617"/></g><g id="n912"><circle cx="662" cy="1638"/></g><g id="n913"><circle cx="662" cy="1660"/></g><g id="n914"><circle cx="662" cy="1681"/></g><g id="n915"><circle cx="662" cy="1702"/></g><g id="n916"><circle cx="621" cy="1363"/></g><g id="n917"><circle cx="621" cy="1384"/></g><g id="n918"><circle cx="621" cy="1405"/></g><g id="n919"><circle cx="634" cy="1426"/></g>
<g id="n920"><circle cx="607" cy="1426"/></g><g id="n921"><circle cx="607" cy="1448"/></g><g id="n922"><circle cx="607" cy="1469"/></g><g id="n923"><circle cx="607" cy="1490"/></g><g id="n924"><circle cx="607" cy="1511"/></g><g id="n925"><circle cx="607" cy="1532"/></g><g id="n926"><circle cx="607" cy="1554"/></g><g id="n927"><circle cx="607" cy="1575"/></g><g id="n928"><circle cx="607" cy="1596"/></g><g id="n929"><circle cx="607" cy="1617"/></g><g id="n930"><circle cx="607" cy="1638"/></g><g id="n931"><circle cx="607" cy="1660"/></g><g id="n932"><circle cx="607" cy="1681"/></g><g id="n933"><circle cx="607" cy="1702"/></g><g id="n934"><circle cx="607" cy="1723"/></g><g id="n935"><circle cx="607" cy="1744"/></g><g id="n936"><circle cx="607" cy="1766"/></g><g id="n937"><circle cx="634" cy="1511"/></g><g id="n938"><circle cx="634" cy="1532"/></g><g id="n939"><circle cx="634" cy="1554"/></g><g id="n940"><circle cx="572" cy="1596"/></g><g id="n941"><circle cx="566" cy="1617"/></g><g id="n942"><circle cx="566" cy="1638"/></g><g id="n943"><circle cx="566" cy="1660"/></g><g id="n944"><circle cx="566" cy="1681"/></g><g id="n945"><circle cx="538" cy="1638"/></g><g id="n946"><circle cx="538" cy="1660"/></g><g id="n947"><circle cx="531" cy="1681"/></g><g id="n948"><circle cx="524" cy="1702"/></g><g id="n949"><circle cx="528" cy="1723"/></g><g id="n950"><circle cx="528" cy="1744"/></g><g id="n951"><circle cx="528" cy="1766"/></g><g id="n952"><circle cx="528" cy="1787"/></g><g id="n953"><circle cx="552" cy="1702"/></g><g id="n954"><circle cx="580" cy="1702"/></g><g id="n955"><circle cx="580" cy="1723"/></g><g id="n956"><circle cx="580" cy="1744"/></g><g id="n957"><circle cx="690" cy="1532"/></g><g id="n958"><circle cx="634" cy="1575"/></g><g id="n959"><circle cx="634" cy="1596"/></g><g id="n960"><circle cx="634" cy="1702"/></g><g id="n961"><circle cx="634" cy="1723"/></g><g id="n962"><circle cx="634" cy="1744"/></g><g id="n963"><circle cx="634" cy="1766"/></g><g id="n964"><circle cx="634" cy="1787"/></g><g id="n965"><circle cx="634" cy="1808"/></g><g id="n966"><circle cx="718" cy="1490"/></g><g id="n967"><circle cx="718" cy="1511"/></g><g id="n968"><circle cx="690" cy="1511"/></g>
<g id="n969"><circle cx="767" cy="1405"/></g><g id="n970"><circle cx="798" cy="1405"/></g><g id="n971"><circle cx="832" cy="1405"/></g><g id="n972"><circle cx="740" cy="1426"/></g><g id="n973"><circle cx="767" cy="1426"/></g><g id="n974"><circle cx="795" cy="1426"/></g><g id="n975"><circle cx="828" cy="1426"/></g><g id="n976"><circle cx="855" cy="1426"/></g><g id="n977"><circle cx="883" cy="1384"/></g><g id="n978"><circle cx="883" cy="1405"/></g><g id="n979"><circle cx="883" cy="1426"/></g><g id="n980"><circle cx="883" cy="1448"/></g><g id="n981"><circle cx="828" cy="1448"/></g><g id="n982"><circle cx="855" cy="1448"/></g><g id="n983"><circle cx="910" cy="1448"/></g><g id="n984"><circle cx="938" cy="1469"/></g><g id="n985"><circle cx="910" cy="1469"/></g><g id="n986"><circle cx="828" cy="1469"/></g><g id="n987"><circle cx="800" cy="1469"/></g><g id="n988"><circle cx="855" cy="1469"/></g><g id="n989"><circle cx="883" cy="1469"/></g><g id="n990"><circle cx="786" cy="1448"/></g><g id="n991"><circle cx="772" cy="1469"/></g><g id="n992"><circle cx="745" cy="1448"/></g><g id="n993"><circle cx="745" cy="1469"/></g><g id="n994"><circle cx="717" cy="1469"/></g><g id="n995"><circle cx="883" cy="1490"/></g><g id="n996"><circle cx="883" cy="1511"/></g><g id="n997"><circle cx="910" cy="1490"/></g><g id="n998"><circle cx="786" cy="1490"/></g><g id="n999"><circle cx="842" cy="1490"/></g><g id="n1000"><circle cx="745" cy="1511"/></g><g id="n1001"><circle cx="772" cy="1511"/></g><g id="n1002"><circle cx="800" cy="1511"/></g><g id="n1003"><circle cx="745" cy="1532"/></g><g id="n1004"><circle cx="745" cy="1554"/></g><g id="n1005"><circle cx="745" cy="1575"/></g><g id="n1006"><circle cx="745" cy="1596"/></g><g id="n1007"><circle cx="772" cy="1532"/></g><g id="n1008"><circle cx="800" cy="1532"/></g><g id="n1009"><circle cx="786" cy="1554"/></g><g id="n1010"><circle cx="779" cy="1575"/></g><g id="n1011"><circle cx="776" cy="1596"/></g><g id="n1012"><circle cx="758" cy="1617"/></g><g id="n1013"><circle cx="745" cy="1638"/></g><g id="n1014"><circle cx="828" cy="1511"/></g><g id="n1015"><circle cx="855" cy="1511"/></g><g id="n1016"><circle cx="938" cy="1490"/></g><g id="n1017"><circle cx="938" cy="1511"/></g><g id="n1018"><circle cx="828" cy="1532"/></g><g id="n1019"><circle cx="828" cy="1554"/></g><g id="n1020"><circle cx="828" cy="1575"/></g><g id="n1021"><circle cx="828" cy="1596"/></g><g id="n1022"><circle cx="855" cy="1532"/></g><g id="n1023"><circle cx="855" cy="1554"/></g><g id="n1024"><circle cx="855" cy="1575"/></g><g id="n1025"><circle cx="855" cy="1596"/></g><g id="n1026"><circle cx="910" cy="1511"/></g><g id="n1027"><circle cx="910" cy="1532"/></g><g id="n1028"><circle cx="910" cy="1554"/></g><g id="n1029"><circle cx="910" cy="1575"/></g><g id="n1030"><circle cx="910" cy="1596"/></g><g id="n1031"><circle cx="938" cy="1532"/></g><g id="n1032"><circle cx="938" cy="1554"/></g><g id="n1033"><circle cx="966" cy="1554"/></g><g id="n1034"><circle cx="966" cy="1575"/></g><g id="n1035"><circle cx="986" cy="1596"/></g><g id="n1036"><circle cx="993" cy="1617"/></g><g id="n1037"><circle cx="993" cy="1638"/></g><g id="n1038"><circle cx="1021" cy="1638"/></g><g id="n1039"><circle cx="1028" cy="1660"/></g><g id="n1040"><circle cx="1049" cy="1681"/></g><g id="n1041"><circle cx="1049" cy="1702"/></g><g id="n1042"><circle cx="1034" cy="1723"/></g><g id="n1043"><circle cx="993" cy="1744"/></g><g id="n1044"><circle cx="1021" cy="1744"/></g><g id="n1045"><circle cx="1049" cy="1744"/></g><g id="n1046"><circle cx="1049" cy="1766"/></g><g id="n1047"><circle cx="1049" cy="1787"/></g><g id="n1048"><circle cx="1049" cy="1808"/></g><g id="n1049"><circle cx="1049" cy="1829"/></g><g id="n1050"><circle cx="1049" cy="1850"/></g><g id="n1051"><circle cx="1049" cy="1872"/></g><g id="n1052"><circle cx="1076" cy="1808"/></g><g id="n1053"><circle cx="1104" cy="1808"/></g><g id="n1054"><circle cx="1076" cy="1829"/></g><g id="n1055"><circle cx="1104" cy="1829"/></g><g id="n1056"><circle cx="1021" cy="1850"/></g><g id="n1057"><circle cx="1021" cy="1872"/></g><g id="n1058"><circle cx="1076" cy="1850"/></g><g id="n1059"><circle cx="1076" cy="1872"/></g><g id="n1060"><circle cx="1076" cy="1893"/></g><g id="n1061"><circle cx="1076" cy="1914"/></g><g id="n1062"><circle cx="1076" cy="1935"/></g><g id="n1063"><circle cx="1104" cy="1850"/></g><g id="n1064"><circle cx="1104" cy="1872"/></g><g id="n1065"><circle cx="1104" cy="1893"/></g><g id="n1066"><circle cx="969" cy="1808"/></g><g id="n1067"><circle cx="1008" cy="1808"/></g><g id="n1068"><circle cx="969" cy="1829"/></g><g id="n1069"><circle cx="966" cy="1850"/></g><g id="n1070"><circle cx="966" cy="1872"/></g><g id="n1071"><circle cx="966" cy="1893"/></g><g id="n1072"><circle cx="938" cy="1872"/></g><g id="n1073"><circle cx="938" cy="1893"/></g><g id="n1074"><circle cx="938" cy="1914"/></g><g id="n1075"><circle cx="938" cy="1935"/></g><g id="n1076"><circle cx="993" cy="1872"/></g><g id="n1077"><circle cx="1004" cy="1829"/></g><g id="n1078"><circle cx="993" cy="1850"/></g><g id="n1079"><circle cx="1021" cy="1766"/></g><g id="n1080"><circle cx="1021" cy="1787"/></g><g id="n1081"><circle cx="993" cy="1766"/></g><g id="n1082"><circle cx="993" cy="1787"/></g><g id="n1083"><circle cx="966" cy="1681"/></g><g id="n1084"><circle cx="966" cy="1702"/></g><g id="n1085"><circle cx="966" cy="1723"/></g><g id="n1086"><circle cx="966" cy="1744"/></g><g id="n1087"><circle cx="966" cy="1766"/></g><g id="n1088"><circle cx="966" cy="1787"/></g><g id="n1089"><circle cx="979" cy="1660"/></g><g id="n1090"><circle cx="966" cy="1638"/></g><g id="n1091"><circle cx="993" cy="1681"/></g><g id="n1092"><circle cx="1021" cy="1681"/></g><g id="n1093"><circle cx="1021" cy="1702"/></g><g id="n1094"><circle cx="1021" cy="1723"/></g><g id="n1095"><circle cx="938" cy="1617"/></g><g id="n1096"><circle cx="938" cy="1638"/></g><g id="n1097"><circle cx="938" cy="1660"/></g><g id="n1098"><circle cx="938" cy="1681"/></g><g id="n1099"><circle cx="903" cy="1617"/></g><g id="n1100"><circle cx="900" cy="1638"/></g><g id="n1101"><circle cx="900" cy="1660"/></g><g id="n1102"><circle cx="869" cy="1660"/></g><g id="n1103"><circle cx="855" cy="1681"/></g><g id="n1104"><circle cx="869" cy="1702"/></g><g id="n1105"><circle cx="869" cy="1723"/></g><g id="n1106"><circle cx="869" cy="1744"/></g><g id="n1107"><circle cx="869" cy="1766"/></g><g id="n1108"><circle cx="869" cy="1787"/></g><g id="n1109"><circle cx="869" cy="1808"/></g><g id="n1110"><circle cx="869" cy="1829"/></g><g id="n1111"><circle cx="869" cy="1850"/></g><g id="n1112"><circle cx="883" cy="1681"/></g><g id="n1113"><circle cx="910" cy="1681"/></g><g id="n1114"><circle cx="896" cy="1702"/></g><g id="n1115"><circle cx="896" cy="1723"/></g><g id="n1116"><circle cx="896" cy="1744"/></g><g id="n1117"><circle cx="924" cy="1702"/></g><g id="n1118"><circle cx="924" cy="1723"/></g><g id="n1119"><circle cx="924" cy="1744"/></g><g id="n1120"><circle cx="855" cy="1872"/></g><g id="n1121"><circle cx="882" cy="1872"/></g><g id="n1122"><circle cx="868" cy="1893"/></g><g id="n1123"><circle cx="896" cy="1893"/></g><g id="n1124"><circle cx="896" cy="1914"/></g><g id="n1125"><circle cx="868" cy="1914"/></g><g id="n1126"><circle cx="868" cy="1935"/></g><g id="n1127"><circle cx="868" cy="1956"/></g><g id="n1128"><circle cx="868" cy="1978"/></g><g id="n1129"><circle cx="814" cy="1617"/></g><g id="n1130"><circle cx="772" cy="1638"/></g><g id="n1131"><circle cx="800" cy="1638"/></g><g id="n1132"><circle cx="828" cy="1638"/></g><g id="n1133"><circle cx="772" cy="1660"/></g><g id="n1134"><circle cx="800" cy="1660"/></g><g id="n1135"><circle cx="793" cy="1681"/></g><g id="n1136"><circle cx="786" cy="1702"/></g><g id="n1137"><circle cx="786" cy="1723"/></g><g id="n1138"><circle cx="786" cy="1744"/></g><g id="n1139"><circle cx="786" cy="1766"/></g><g id="n1140"><circle cx="786" cy="1787"/></g><g id="n1141"><circle cx="786" cy="1808"/></g><g id="n1142"><circle cx="828" cy="1660"/></g><g id="n1143"><circle cx="828" cy="1681"/></g><g id="n1144"><circle cx="814" cy="1702"/></g><g id="n1145"><circle cx="841" cy="1702"/></g><g id="n1146"><circle cx="814" cy="1723"/></g><g id="n1147"><circle cx="814" cy="1744"/></g><g id="n1148"><circle cx="814" cy="1766"/></g><g id="n1149"><circle cx="841" cy="1723"/></g><g id="n1150"><circle cx="841" cy="1766"/></g><g id="n1151"><circle cx="841" cy="1787"/></g><g id="n1152"><circle cx="745" cy="1660"/></g><g id="n1153"><circle cx="745" cy="1681"/></g><g id="n1154"><circle cx="745" cy="1702"/></g><g id="n1155"><circle cx="717" cy="1681"/></g><g id="n1156"><circle cx="717" cy="1702"/></g><g id="n1157"><circle cx="704" cy="1723"/></g><g id="n1158"><circle cx="731" cy="1723"/></g><g id="n1159"><circle cx="758" cy="1723"/></g><g id="n1160"><circle cx="758" cy="1744"/></g><g id="n1161"><circle cx="758" cy="1766"/></g><g id="n1162"><circle cx="690" cy="1702"/></g><g id="n1163"><circle cx="677" cy="1723"/></g><g id="n1164"><circle cx="677" cy="1744"/></g><g id="n1165"><circle cx="677" cy="1766"/></g><g id="n1166"><circle cx="677" cy="1787"/></g><g id="n1167"><circle cx="677" cy="1808"/></g><g id="n1168"><circle cx="677" cy="1829"/></g><g id="n1169"><circle cx="677" cy="1850"/></g><g id="n1170"><circle cx="677" cy="1872"/></g>
<g id="n1171"><circle cx="566" cy="1193"/></g><g id="n1172"><circle cx="538" cy="1193"/></g><g id="n1173"><circle cx="524" cy="1214"/></g><g id="n1174"><circle cx="483" cy="1236"/></g><g id="n1175"><circle cx="441" cy="1257"/></g><g id="n1176"><circle cx="469" cy="1257"/></g><g id="n1177"><circle cx="497" cy="1257"/></g><g id="n1178"><circle cx="441" cy="1278"/></g><g id="n1179"><circle cx="440" cy="1299"/></g><g id="n1180"><circle cx="440" cy="1320"/></g><g id="n1181"><circle cx="440" cy="1342"/></g><g id="n1182"><circle cx="399" cy="1320"/></g><g id="n1183"><circle cx="358" cy="1342"/></g><g id="n1184"><circle cx="385" cy="1342"/></g><g id="n1185"><circle cx="385" cy="1363"/></g><g id="n1186"><circle cx="413" cy="1342"/></g><g id="n1187"><circle cx="469" cy="1278"/></g><g id="n1188"><circle cx="497" cy="1278"/></g><g id="n1189"><circle cx="497" cy="1299"/></g><g id="n1190"><circle cx="497" cy="1320"/></g><g id="n1191"><circle cx="497" cy="1342"/></g><g id="n1192"><circle cx="497" cy="1363"/></g><g id="n1193"><circle cx="358" cy="1363"/></g><g id="n1194"><circle cx="358" cy="1384"/></g><g id="n1195"><circle cx="358" cy="1405"/></g><g id="n1196"><circle cx="358" cy="1426"/></g><g id="n1197"><circle cx="358" cy="1448"/></g><g id="n1198"><circle cx="358" cy="1469"/></g><g id="n1199"><circle cx="337" cy="1490"/></g><g id="n1200"><circle cx="337" cy="1511"/></g><g id="n1201"><circle cx="337" cy="1532"/></g><g id="n1202"><circle cx="366" cy="1490"/></g><g id="n1203"><circle cx="366" cy="1511"/></g><g id="n1204"><circle cx="366" cy="1532"/></g><g id="n1205"><circle cx="413" cy="1363"/></g><g id="n1206"><circle cx="413" cy="1384"/></g><g id="n1207"><circle cx="413" cy="1405"/></g><g id="n1208"><circle cx="412" cy="1426"/></g><g id="n1209"><circle cx="408" cy="1448"/></g><g id="n1210"><circle cx="402" cy="1469"/></g><g id="n1211"><circle cx="400" cy="1490"/></g><g id="n1212"><circle cx="400" cy="1511"/></g><g id="n1213"><circle cx="400" cy="1532"/></g><g id="n1214"><circle cx="400" cy="1554"/></g><g id="n1215"><circle cx="524" cy="1363"/></g><g id="n1216"><circle cx="483" cy="1384"/></g><g id="n1217"><circle cx="469" cy="1405"/></g><g id="n1218"><circle cx="441" cy="1426"/></g><g id="n1219"><circle cx="441" cy="1448"/></g><g id="n1220"><circle cx="469" cy="1426"/></g><g id="n1221"><circle cx="469" cy="1448"/></g><g id="n1222"><circle cx="469" cy="1469"/></g><g id="n1223"><circle cx="455" cy="1490"/></g><g id="n1224"><circle cx="483" cy="1490"/></g><g id="n1225"><circle cx="483" cy="1511"/></g><g id="n1226"><circle cx="510" cy="1511"/></g><g id="n1227"><circle cx="428" cy="1511"/></g><g id="n1228"><circle cx="428" cy="1532"/></g><g id="n1229"><circle cx="428" cy="1554"/></g><g id="n1230"><circle cx="428" cy="1575"/></g><g id="n1231"><circle cx="428" cy="1596"/></g><g id="n1232"><circle cx="428" cy="1617"/></g><g id="n1233"><circle cx="428" cy="1638"/></g><g id="n1234"><circle cx="428" cy="1660"/></g><g id="n1235"><circle cx="428" cy="1681"/></g><g id="n1236"><circle cx="400" cy="1617"/></g><g id="n1237"><circle cx="400" cy="1638"/></g><g id="n1238"><circle cx="400" cy="1660"/></g><g id="n1239"><circle cx="455" cy="1511"/></g><g id="n1240"><circle cx="455" cy="1532"/></g><g id="n1241"><circle cx="455" cy="1554"/></g><g id="n1242"><circle cx="455" cy="1575"/></g><g id="n1243"><circle cx="455" cy="1596"/></g><g id="n1244"><circle cx="455" cy="1617"/></g><g id="n1245"><circle cx="455" cy="1638"/></g><g id="n1246"><circle cx="455" cy="1660"/></g><g id="n1247"><circle cx="455" cy="1681"/></g><g id="n1248"><circle cx="483" cy="1532"/></g><g id="n1249"><circle cx="483" cy="1554"/></g><g id="n1250"><circle cx="483" cy="1575"/></g><g id="n1251"><circle cx="483" cy="1596"/></g><g id="n1252"><circle cx="483" cy="1617"/></g><g id="n1253"><circle cx="483" cy="1638"/></g><g id="n1254"><circle cx="483" cy="1660"/></g><g id="n1255"><circle cx="483" cy="1681"/></g><g id="n1256"><circle cx="483" cy="1702"/></g><g id="n1257"><circle cx="448" cy="1702"/></g><g id="n1258"><circle cx="445" cy="1723"/></g><g id="n1259"><circle cx="445" cy="1744"/></g><g id="n1260"><circle cx="445" cy="1766"/></g><g id="n1261"><circle cx="472" cy="1723"/></g><g id="n1262"><circle cx="500" cy="1723"/></g><g id="n1263"><circle cx="500" cy="1744"/></g><g id="n1264"><circle cx="500" cy="1766"/></g><g id="n1265"><circle cx="500" cy="1787"/></g><g id="n1266"><circle cx="524" cy="1384"/></g><g id="n1267"><circle cx="524" cy="1405"/></g><g id="n1268"><circle cx="497" cy="1426"/></g><g id="n1269"><circle cx="524" cy="1426"/></g><g id="n1270"><circle cx="552" cy="1426"/></g><g id="n1271"><circle cx="497" cy="1448"/></g><g id="n1272"><circle cx="497" cy="1469"/></g><g id="n1273"><circle cx="524" cy="1448"/></g><g id="n1274"><circle cx="524" cy="1469"/></g><g id="n1275"><circle cx="524" cy="1490"/></g><g id="n1276"><circle cx="552" cy="1448"/></g><g id="n1277"><circle cx="580" cy="1448"/></g><g id="n1278"><circle cx="580" cy="1469"/></g><g id="n1279"><circle cx="580" cy="1490"/></g><g id="n1280"><circle cx="580" cy="1511"/></g>
<g id="n1281"><circle cx="431" cy="1787"/></g><g id="n1282"><circle cx="459" cy="1787"/></g><g id="n1283"><circle cx="431" cy="1808"/></g><g id="n1284"><circle cx="431" cy="1829"/></g><g id="n1285"><circle cx="404" cy="1829"/></g><g id="n1286"><circle cx="404" cy="1850"/></g><g id="n1287"><circle cx="436" cy="1850"/></g><g id="n1288"><circle cx="440" cy="1872"/></g><g id="n1289"><circle cx="440" cy="1893"/></g><g id="n1290"><circle cx="459" cy="1808"/></g><g id="n1291"><circle cx="459" cy="1829"/></g><g id="n1292"><circle cx="487" cy="1808"/></g><g id="n1293"><circle cx="487" cy="1829"/></g><g id="n1294"><circle cx="514" cy="1829"/></g><g id="n1295"><circle cx="362" cy="1872"/></g><g id="n1296"><circle cx="342" cy="1893"/></g><g id="n1297"><circle cx="342" cy="1914"/></g><g id="n1298"><circle cx="331" cy="1935"/></g><g id="n1299"><circle cx="323" cy="1956"/></g><g id="n1300"><circle cx="323" cy="1978"/></g><g id="n1301"><circle cx="323" cy="1999"/></g><g id="n1302"><circle cx="291" cy="1978"/></g><g id="n1303"><circle cx="258" cy="1999"/></g><g id="n1304"><circle cx="258" cy="2020"/></g><g id="n1305"><circle cx="238" cy="2041"/></g><g id="n1306"><circle cx="210" cy="2062"/></g><g id="n1307"><circle cx="238" cy="2062"/></g><g id="n1308"><circle cx="217" cy="2084"/></g><g id="n1309"><circle cx="203" cy="2105"/></g><g id="n1310"><circle cx="314" cy="1914"/></g><g id="n1311"><circle cx="291" cy="1999"/></g><g id="n1312"><circle cx="314" cy="2020"/></g><g id="n1313"><circle cx="314" cy="2041"/></g><g id="n1314"><circle cx="286" cy="2020"/></g><g id="n1315"><circle cx="286" cy="2041"/></g><g id="n1316"><circle cx="286" cy="2062"/></g><g id="n1317"><circle cx="258" cy="2084"/></g><g id="n1318"><circle cx="258" cy="2105"/></g><g id="n1319"><circle cx="286" cy="2084"/></g><g id="n1320"><circle cx="286" cy="2105"/></g><g id="n1321"><circle cx="314" cy="2084"/></g><g id="n1322"><circle cx="314" cy="2105"/></g><g id="n1323"><circle cx="231" cy="2105"/></g><g id="n1324"><circle cx="230" cy="2126"/></g><g id="n1325"><circle cx="230" cy="2147"/></g><g id="n1326"><circle cx="230" cy="2168"/></g><g id="n1327"><circle cx="230" cy="2190"/></g><g id="n1328"><circle cx="230" cy="2211"/></g><g id="n1329"><circle cx="230" cy="2232"/></g><g id="n1330"><circle cx="230" cy="2253"/></g><g id="n1331"><circle cx="202" cy="2253"/></g><g id="n1332"><circle cx="201" cy="2274"/></g><g id="n1333"><circle cx="201" cy="2296"/></g><g id="n1334"><circle cx="201" cy="2317"/></g><g id="n1335"><circle cx="201" cy="2338"/></g><g id="n1336"><circle cx="289" cy="2126"/></g><g id="n1337"><circle cx="303" cy="2147"/></g><g id="n1338"><circle cx="310" cy="2168"/></g><g id="n1339"><circle cx="310" cy="2190"/></g><g id="n1340"><circle cx="310" cy="2211"/></g><g id="n1341"><circle cx="310" cy="2232"/></g><g id="n1342"><circle cx="310" cy="2253"/></g><g id="n1343"><circle cx="310" cy="2274"/></g><g id="n1344"><circle cx="310" cy="2296"/></g><g id="n1345"><circle cx="310" cy="2317"/></g><g id="n1346"><circle cx="310" cy="2338"/></g><g id="n1347"><circle cx="338" cy="2211"/></g><g id="n1348"><circle cx="338" cy="2253"/></g><g id="n1349"><circle cx="339" cy="2274"/></g><g id="n1350"><circle cx="339" cy="2296"/></g><g id="n1351"><circle cx="339" cy="2317"/></g><g id="n1352"><circle cx="339" cy="2338"/></g><g id="n1353"><circle cx="367" cy="2296"/></g><g id="n1354"><circle cx="367" cy="2317"/></g><g id="n1355"><circle cx="270" cy="2296"/></g><g id="n1356"><circle cx="263" cy="2317"/></g><g id="n1357"><circle cx="229" cy="2338"/></g><g id="n1358"><circle cx="256" cy="2338"/></g><g id="n1359"><circle cx="285" cy="2338"/></g><g id="n1360"><circle cx="256" cy="2359"/></g><g id="n1361"><circle cx="298" cy="2359"/></g><g id="n1362"><circle cx="298" cy="2380"/></g><g id="n1363"><circle cx="325" cy="2380"/></g><g id="n1364"><circle cx="222" cy="2359"/></g><g id="n1365"><circle cx="215" cy="2380"/></g><g id="n1366"><circle cx="243" cy="2380"/></g><g id="n1367"><circle cx="270" cy="2380"/></g><g id="n1368"><circle cx="235" cy="2402"/></g><g id="n1369"><circle cx="229" cy="2423"/></g><g id="n1370"><circle cx="215" cy="2444"/></g><g id="n1371"><circle cx="174" cy="2465"/></g><g id="n1372"><circle cx="174" cy="2486"/></g><g id="n1373"><circle cx="201" cy="2465"/></g><g id="n1374"><circle cx="201" cy="2486"/></g><g id="n1375"><circle cx="201" cy="2508"/></g><g id="n1376"><circle cx="201" cy="2529"/></g><g id="n1377"><circle cx="229" cy="2465"/></g><g id="n1378"><circle cx="229" cy="2486"/></g><g id="n1379"><circle cx="229" cy="2508"/></g><g id="n1380"><circle cx="270" cy="2402"/></g><g id="n1381"><circle cx="270" cy="2423"/></g><g id="n1382"><circle cx="243" cy="2444"/></g><g id="n1383"><circle cx="256" cy="2465"/></g><g id="n1384"><circle cx="256" cy="2486"/></g><g id="n1385"><circle cx="298" cy="2423"/></g><g id="n1386"><circle cx="298" cy="2444"/></g><g id="n1387"><circle cx="298" cy="2465"/></g><g id="n1388"><circle cx="298" cy="2486"/></g><g id="n1389"><circle cx="298" cy="2508"/></g><g id="n1390"><circle cx="298" cy="2529"/></g><g id="n1391"><circle cx="298" cy="2550"/></g><g id="n1392"><circle cx="298" cy="2571"/></g><g id="n1393"><circle cx="298" cy="2592"/></g><g id="n1394"><circle cx="270" cy="2508"/></g><g id="n1395"><circle cx="270" cy="2529"/></g><g id="n1396"><circle cx="270" cy="2550"/></g><g id="n1397"><circle cx="325" cy="2402"/></g><g id="n1398"><circle cx="325" cy="2423"/></g><g id="n1399"><circle cx="325" cy="2444"/></g><g id="n1400"><circle cx="325" cy="2465"/></g><g id="n1401"><circle cx="325" cy="2486"/></g><g id="n1402"><circle cx="325" cy="2508"/></g><g id="n1403"><circle cx="325" cy="2529"/></g><g id="n1404"><circle cx="325" cy="2550"/></g><g id="n1405"><circle cx="353" cy="2486"/></g><g id="n1406"><circle cx="353" cy="2508"/></g><g id="n1407"><circle cx="353" cy="2529"/></g><g id="n1408"><circle cx="353" cy="2550"/></g><g id="n1409"><circle cx="353" cy="2571"/></g><g id="n1410"><circle cx="353" cy="2592"/></g><g id="n1411"><circle cx="270" cy="2614"/></g><g id="n1412"><circle cx="298" cy="2614"/></g><g id="n1413"><circle cx="325" cy="2614"/></g><g id="n1414"><circle cx="270" cy="2635"/></g><g id="n1415"><circle cx="298" cy="2635"/></g><g id="n1416"><circle cx="325" cy="2635"/></g><g id="n1417"><circle cx="325" cy="2656"/></g><g id="n1418"><circle cx="325" cy="2677"/></g><g id="n1419"><circle cx="325" cy="2698"/></g><g id="n1420"><circle cx="325" cy="2720"/></g><g id="n1421"><circle cx="325" cy="2741"/></g>
<g id="n1422"><circle cx="426" cy="1914"/></g><g id="n1423"><circle cx="454" cy="1914"/></g><g id="n1424"><circle cx="454" cy="1935"/></g><g id="n1425"><circle cx="426" cy="1935"/></g><g id="n1426"><circle cx="414" cy="1956"/></g><g id="n1427"><circle cx="450" cy="1956"/></g><g id="n1428"><circle cx="454" cy="1978"/></g><g id="n1429"><circle cx="482" cy="1999"/></g><g id="n1430"><circle cx="487" cy="2020"/></g><g id="n1431"><circle cx="493" cy="2041"/></g><g id="n1432"><circle cx="479" cy="2062"/></g><g id="n1433"><circle cx="507" cy="2062"/></g><g id="n1434"><circle cx="534" cy="2062"/></g><g id="n1435"><circle cx="507" cy="2084"/></g><g id="n1436"><circle cx="507" cy="2105"/></g><g id="n1437"><circle cx="414" cy="1978"/></g><g id="n1438"><circle cx="414" cy="1999"/></g><g id="n1439"><circle cx="386" cy="1978"/></g><g id="n1440"><circle cx="386" cy="1999"/></g><g id="n1441"><circle cx="441" cy="1999"/></g><g id="n1442"><circle cx="369" cy="2020"/></g><g id="n1443"><circle cx="424" cy="2020"/></g><g id="n1444"><circle cx="451" cy="2020"/></g><g id="n1445"><circle cx="451" cy="2041"/></g><g id="n1446"><circle cx="451" cy="2062"/></g><g id="n1447"><circle cx="355" cy="2041"/></g><g id="n1448"><circle cx="341" cy="2062"/></g><g id="n1449"><circle cx="341" cy="2084"/></g><g id="n1450"><circle cx="341" cy="2105"/></g><g id="n1451"><circle cx="341" cy="2126"/></g><g id="n1452"><circle cx="341" cy="2147"/></g><g id="n1453"><circle cx="341" cy="2168"/></g><g id="n1454"><circle cx="396" cy="2041"/></g><g id="n1455"><circle cx="424" cy="2041"/></g><g id="n1456"><circle cx="424" cy="2062"/></g><g id="n1457"><circle cx="424" cy="2084"/></g><g id="n1458"><circle cx="424" cy="2105"/></g><g id="n1459"><circle cx="424" cy="2126"/></g><g id="n1460"><circle cx="424" cy="2147"/></g><g id="n1461"><circle cx="369" cy="2062"/></g><g id="n1462"><circle cx="396" cy="2062"/></g><g id="n1463"><circle cx="396" cy="2084"/></g><g id="n1464"><circle cx="369" cy="2084"/></g><g id="n1465"><circle cx="369" cy="2105"/></g><g id="n1466"><circle cx="396" cy="2105"/></g><g id="n1467"><circle cx="396" cy="2126"/></g><g id="n1468"><circle cx="396" cy="2147"/></g><g id="n1469"><circle cx="369" cy="2147"/></g><g id="n1470"><circle cx="410" cy="2168"/></g><g id="n1471"><circle cx="410" cy="2190"/></g><g id="n1472"><circle cx="438" cy="2168"/></g><g id="n1473"><circle cx="438" cy="2190"/></g><g id="n1474"><circle cx="438" cy="2211"/></g><g id="n1475"><circle cx="438" cy="2232"/></g><g id="n1476"><circle cx="438" cy="2253"/></g><g id="n1477"><circle cx="438" cy="2274"/></g><g id="n1478"><circle cx="522" cy="1893"/></g><g id="n1479"><circle cx="523" cy="1914"/></g><g id="n1480"><circle cx="526" cy="1935"/></g><g id="n1481"><circle cx="532" cy="1956"/></g><g id="n1482"><circle cx="532" cy="1978"/></g><g id="n1483"><circle cx="560" cy="1999"/></g><g id="n1484"><circle cx="560" cy="2020"/></g><g id="n1485"><circle cx="560" cy="2041"/></g><g id="n1486"><circle cx="588" cy="2020"/></g><g id="n1487"><circle cx="589" cy="2041"/></g><g id="n1488"><circle cx="562" cy="2062"/></g><g id="n1489"><circle cx="589" cy="2062"/></g><g id="n1490"><circle cx="589" cy="2084"/></g><g id="n1491"><circle cx="618" cy="2062"/></g><g id="n1492"><circle cx="562" cy="2084"/></g><g id="n1493"><circle cx="562" cy="2105"/></g><g id="n1494"><circle cx="562" cy="2126"/></g><g id="n1495"><circle cx="562" cy="2147"/></g><g id="n1496"><circle cx="562" cy="2168"/></g><g id="n1497"><circle cx="562" cy="2190"/></g><g id="n1498"><circle cx="618" cy="2084"/></g><g id="n1499"><circle cx="618" cy="2105"/></g><g id="n1500"><circle cx="618" cy="2126"/></g><g id="n1501"><circle cx="645" cy="2084"/></g><g id="n1502"><circle cx="645" cy="2105"/></g><g id="n1503"><circle cx="645" cy="2126"/></g><g id="n1504"><circle cx="632" cy="2147"/></g><g id="n1505"><circle cx="632" cy="2168"/></g><g id="n1506"><circle cx="632" cy="2190"/></g><g id="n1507"><circle cx="604" cy="2168"/></g><g id="n1508"><circle cx="604" cy="2190"/></g><g id="n1509"><circle cx="687" cy="2105"/></g><g id="n1510"><circle cx="687" cy="2126"/></g><g id="n1511"><circle cx="687" cy="2147"/></g><g id="n1512"><circle cx="687" cy="2168"/></g><g id="n1513"><circle cx="687" cy="2190"/></g><g id="n1514"><circle cx="687" cy="2211"/></g><g id="n1515"><circle cx="658" cy="2147"/></g><g id="n1516"><circle cx="658" cy="2168"/></g><g id="n1517"><circle cx="658" cy="2190"/></g><g id="n1518"><circle cx="713" cy="2126"/></g><g id="n1519"><circle cx="713" cy="2147"/></g><g id="n1520"><circle cx="713" cy="2168"/></g><g id="n1521"><circle cx="713" cy="2190"/></g><g id="n1522"><circle cx="713" cy="2211"/></g>
<g id="n1523"><circle cx="523" cy="684"/></g><g id="n1524"><circle cx="600" cy="684"/></g><g id="n1525"><circle cx="635" cy="684"/></g><g id="n1526"><circle cx="493" cy="705"/></g><g id="n1527"><circle cx="479" cy="727"/></g><g id="n1528"><circle cx="472" cy="748"/></g><g id="n1529"><circle cx="469" cy="769"/></g><g id="n1530"><circle cx="469" cy="790"/></g><g id="n1531"><circle cx="469" cy="811"/></g><g id="n1532"><circle cx="469" cy="833"/></g><g id="n1533"><circle cx="469" cy="854"/></g><g id="n1534"><circle cx="469" cy="875"/></g><g id="n1535"><circle cx="469" cy="896"/></g><g id="n1536"><circle cx="469" cy="917"/></g><g id="n1537"><circle cx="469" cy="939"/></g><g id="n1538"><circle cx="523" cy="705"/></g><g id="n1539"><circle cx="523" cy="727"/></g><g id="n1540"><circle cx="523" cy="748"/></g><g id="n1541"><circle cx="523" cy="769"/></g><g id="n1542"><circle cx="497" cy="769"/></g><g id="n1543"><circle cx="497" cy="790"/></g><g id="n1544"><circle cx="497" cy="811"/></g><g id="n1545"><circle cx="524" cy="790"/></g><g id="n1546"><circle cx="524" cy="811"/></g><g id="n1547"><circle cx="524" cy="833"/></g><g id="n1548"><circle cx="593" cy="705"/></g><g id="n1549"><circle cx="586" cy="727"/></g><g id="n1550"><circle cx="552" cy="748"/></g><g id="n1551"><circle cx="552" cy="769"/></g><g id="n1552"><circle cx="552" cy="790"/></g><g id="n1553"><circle cx="552" cy="811"/></g><g id="n1554"><circle cx="579" cy="748"/></g><g id="n1555"><circle cx="579" cy="769"/></g><g id="n1556"><circle cx="579" cy="790"/></g><g id="n1557"><circle cx="579" cy="811"/></g><g id="n1558"><circle cx="579" cy="833"/></g><g id="n1559"><circle cx="579" cy="854"/></g><g id="n1560"><circle cx="579" cy="875"/></g><g id="n1561"><circle cx="608" cy="748"/></g><g id="n1562"><circle cx="608" cy="769"/></g><g id="n1563"><circle cx="649" cy="705"/></g><g id="n1564"><circle cx="634" cy="727"/></g><g id="n1565"><circle cx="662" cy="727"/></g><g id="n1566"><circle cx="690" cy="727"/></g><g id="n1567"><circle cx="634" cy="748"/></g><g id="n1568"><circle cx="634" cy="769"/></g><g id="n1569"><circle cx="634" cy="790"/></g><g id="n1570"><circle cx="634" cy="811"/></g><g id="n1571"><circle cx="634" cy="833"/></g><g id="n1572"><circle cx="634" cy="854"/></g><g id="n1573"><circle cx="634" cy="875"/></g><g id="n1574"><circle cx="634" cy="896"/></g><g id="n1575"><circle cx="634" cy="917"/></g><g id="n1576"><circle cx="634" cy="939"/></g><g id="n1577"><circle cx="634" cy="960"/></g><g id="n1578"><circle cx="634" cy="981"/></g><g id="n1579"><circle cx="634" cy="1002"/></g><g id="n1580"><circle cx="634" cy="1023"/></g><g id="n1581"><circle cx="634" cy="1045"/></g><g id="n1582"><circle cx="634" cy="1066"/></g><g id="n1583"><circle cx="662" cy="748"/></g><g id="n1584"><circle cx="662" cy="769"/></g><g id="n1585"><circle cx="662" cy="790"/></g><g id="n1586"><circle cx="662" cy="811"/></g><g id="n1587"><circle cx="608" cy="811"/></g><g id="n1588"><circle cx="608" cy="833"/></g><g id="n1589"><circle cx="608" cy="854"/></g><g id="n1590"><circle cx="662" cy="854"/></g><g id="n1591"><circle cx="662" cy="875"/></g><g id="n1592"><circle cx="662" cy="896"/></g><g id="n1593"><circle cx="662" cy="917"/></g><g id="n1594"><circle cx="662" cy="939"/></g><g id="n1595"><circle cx="690" cy="748"/></g><g id="n1596"><circle cx="690" cy="769"/></g><g id="n1597"><circle cx="690" cy="790"/></g><g id="n1598"><circle cx="690" cy="811"/></g><g id="n1599"><circle cx="690" cy="833"/></g><g id="n1600"><circle cx="690" cy="854"/></g><g id="n1601"><circle cx="690" cy="875"/></g><g id="n1602"><circle cx="690" cy="896"/></g><g id="n1603"><circle cx="690" cy="917"/></g><g id="n1604"><circle cx="690" cy="939"/></g><g id="n1605"><circle cx="717" cy="917"/></g><g id="n1606"><circle cx="717" cy="939"/></g><g id="n1607"><circle cx="717" cy="960"/></g><g id="n1608"><circle cx="717" cy="981"/></g><g id="n1609"><circle cx="745" cy="939"/></g><g id="n1610"><circle cx="745" cy="960"/></g><g id="n1611"><circle cx="745" cy="981"/></g><g id="n1612"><circle cx="745" cy="1002"/></g><g id="n1613"><circle cx="745" cy="1023"/></g><g id="n1614"><circle cx="745" cy="1045"/></g><g id="n1615"><circle cx="745" cy="1066"/></g><g id="n1616"><circle cx="772" cy="960"/></g><g id="n1617"><circle cx="772" cy="981"/></g><g id="n1618"><circle cx="772" cy="1002"/></g><g id="n1619"><circle cx="677" cy="960"/></g><g id="n1620"><circle cx="662" cy="981"/></g><g id="n1621"><circle cx="662" cy="1002"/></g><g id="n1622"><circle cx="690" cy="981"/></g><g id="n1623"><circle cx="703" cy="1002"/></g><g id="n1624"><circle cx="690" cy="1023"/></g><g id="n1625"><circle cx="690" cy="1045"/></g><g id="n1626"><circle cx="690" cy="1066"/></g><g id="n1627"><circle cx="690" cy="1087"/></g><g id="n1628"><circle cx="690" cy="1108"/></g><g id="n1629"><circle cx="690" cy="1130"/></g><g id="n1630"><circle cx="690" cy="1151"/></g><g id="n1631"><circle cx="717" cy="1023"/></g><g id="n1632"><circle cx="717" cy="1045"/></g><g id="n1633"><circle cx="717" cy="1066"/></g><g id="n1634"><circle cx="738" cy="1087"/></g><g id="n1635"><circle cx="724" cy="1108"/></g>
<g id="n1636"><circle cx="1042" cy="790"/></g><g id="n1637"><circle cx="1069" cy="790"/></g><g id="n1638"><circle cx="1042" cy="811"/></g><g id="n1639"><circle cx="1069" cy="811"/></g><g id="n1640"><circle cx="1014" cy="833"/></g><g id="n1641"><circle cx="1014" cy="854"/></g><g id="n1642"><circle cx="1042" cy="833"/></g><g id="n1643"><circle cx="1042" cy="854"/></g><g id="n1644"><circle cx="1069" cy="833"/></g><g id="n1645"><circle cx="1069" cy="854"/></g><g id="n1646"><circle cx="1097" cy="833"/></g><g id="n1647"><circle cx="1097" cy="854"/></g><g id="n1648"><circle cx="1097" cy="875"/></g><g id="n1649"><circle cx="1097" cy="896"/></g><g id="n1650"><circle cx="1019" cy="875"/></g><g id="n1651"><circle cx="1047" cy="875"/></g><g id="n1652"><circle cx="1047" cy="896"/></g><g id="n1653"><circle cx="1047" cy="917"/></g><g id="n1654"><circle cx="1047" cy="939"/></g><g id="n1655"><circle cx="1047" cy="960"/></g><g id="n1656"><circle cx="992" cy="896"/></g><g id="n1657"><circle cx="992" cy="917"/></g><g id="n1658"><circle cx="992" cy="939"/></g><g id="n1659"><circle cx="992" cy="960"/></g><g id="n1660"><circle cx="1019" cy="896"/></g><g id="n1661"><circle cx="1019" cy="917"/></g><g id="n1662"><circle cx="1019" cy="939"/></g>
<g id="n1663"><circle cx="1143" cy="1554"/></g><g id="n1664"><circle cx="1171" cy="1554"/></g><g id="n1665"><circle cx="1202" cy="1554"/></g><g id="n1666"><circle cx="1171" cy="1575"/></g><g id="n1667"><circle cx="1171" cy="1596"/></g><g id="n1668"><circle cx="1228" cy="1575"/></g><g id="n1669"><circle cx="1242" cy="1596"/></g><g id="n1670"><circle cx="1242" cy="1617"/></g><g id="n1671"><circle cx="1283" cy="1617"/></g><g id="n1672"><circle cx="1297" cy="1638"/></g><g id="n1673"><circle cx="1297" cy="1660"/></g><g id="n1674"><circle cx="1297" cy="1681"/></g><g id="n1675"><circle cx="1297" cy="1702"/></g><g id="n1676"><circle cx="1159" cy="1617"/></g><g id="n1677"><circle cx="1186" cy="1617"/></g><g id="n1678"><circle cx="1186" cy="1638"/></g><g id="n1679"><circle cx="1186" cy="1660"/></g><g id="n1680"><circle cx="1214" cy="1638"/></g><g id="n1681"><circle cx="1214" cy="1660"/></g><g id="n1682"><circle cx="1214" cy="1681"/></g><g id="n1683"><circle cx="1242" cy="1638"/></g><g id="n1684"><circle cx="1242" cy="1660"/></g><g id="n1685"><circle cx="1269" cy="1638"/></g><g id="n1686"><circle cx="1269" cy="1660"/></g><g id="n1687"><circle cx="1269" cy="1681"/></g><g id="n1688"><circle cx="1269" cy="1702"/></g><g id="n1689"><circle cx="1269" cy="1723"/></g><g id="n1690"><circle cx="1242" cy="1744"/></g><g id="n1691"><circle cx="1242" cy="1766"/></g><g id="n1692"><circle cx="1242" cy="1787"/></g><g id="n1693"><circle cx="1242" cy="1808"/></g><g id="n1694"><circle cx="1242" cy="1829"/></g><g id="n1695"><circle cx="1269" cy="1744"/></g><g id="n1696"><circle cx="1269" cy="1766"/></g><g id="n1697"><circle cx="1269" cy="1787"/></g><g id="n1698"><circle cx="1269" cy="1808"/></g><g id="n1699"><circle cx="1297" cy="1744"/></g>
</g>
<use href="#connectors" class="heads"/>
</svg>
